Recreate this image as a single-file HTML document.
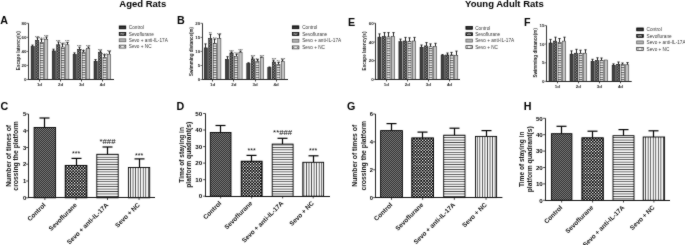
<!DOCTYPE html>
<html><head><meta charset="utf-8"><style>
html,body{margin:0;padding:0;background:#fff;}
body{width:685px;height:245px;overflow:hidden;}
svg{display:block;font-family:"Liberation Sans", sans-serif;filter:grayscale(1);}
</style></head><body>
<svg width="685" height="245" viewBox="0 0 685 245">
<defs>
<pattern id="pChk" width="2.8" height="2.8" patternUnits="userSpaceOnUse">
  <rect width="2.8" height="2.8" fill="#000"/>
  <rect x="0" y="0" width="1.4" height="1.4" fill="#fff"/>
  <rect x="1.4" y="1.4" width="1.4" height="1.4" fill="#fff"/>
</pattern>
<pattern id="pDark" width="2" height="2" patternUnits="userSpaceOnUse">
  <rect width="2" height="2" fill="#333"/>
  <rect x="0" y="0" width="1" height="1" fill="#777"/>
  <rect x="1" y="1" width="1" height="1" fill="#777"/>
</pattern>
<pattern id="pH" width="4" height="2.45" patternUnits="userSpaceOnUse">
  <rect width="4" height="2.45" fill="#fff"/>
  <rect x="0" y="0" width="4" height="0.8" fill="#333"/>
</pattern>
<pattern id="pV" width="2.55" height="4" patternUnits="userSpaceOnUse">
  <rect width="2.55" height="4" fill="#fff"/>
  <rect x="0" y="0" width="0.8" height="4" fill="#333"/>
</pattern>
<pattern id="pChkS" width="2.6" height="2.6" patternUnits="userSpaceOnUse">
  <rect width="2.6" height="2.6" fill="#1a1a1a"/>
  <rect x="0" y="0" width="1.3" height="1.3" fill="#e0e0e0"/>
  <rect x="1.3" y="1.3" width="1.3" height="1.3" fill="#e0e0e0"/>
</pattern>
<pattern id="pLad" width="4" height="2.4" patternUnits="userSpaceOnUse">
  <rect width="4" height="2.4" fill="#fff"/>
  <rect x="0" y="0" width="4" height="1" fill="#555"/>
</pattern>
<pattern id="pc0" x="35.6" y="0" width="3.2" height="2.6" patternUnits="userSpaceOnUse"><rect width="3.2" height="2.6" fill="#2a2a2a"/><rect x="0.3" y="0.1" width="1.2" height="1.1" fill="#b0b0b0"/><rect x="1.7" y="1.4" width="1.2" height="1.1" fill="#b0b0b0"/></pattern><pattern id="pc1" x="56.7" y="0" width="3.2" height="2.6" patternUnits="userSpaceOnUse"><rect width="3.2" height="2.6" fill="#2a2a2a"/><rect x="0.3" y="0.1" width="1.2" height="1.1" fill="#b0b0b0"/><rect x="1.7" y="1.4" width="1.2" height="1.1" fill="#b0b0b0"/></pattern><pattern id="pc2" x="77.6" y="0" width="3.2" height="2.6" patternUnits="userSpaceOnUse"><rect width="3.2" height="2.6" fill="#2a2a2a"/><rect x="0.3" y="0.1" width="1.2" height="1.1" fill="#b0b0b0"/><rect x="1.7" y="1.4" width="1.2" height="1.1" fill="#b0b0b0"/></pattern><pattern id="pc3" x="98.5" y="0" width="3.2" height="2.6" patternUnits="userSpaceOnUse"><rect width="3.2" height="2.6" fill="#2a2a2a"/><rect x="0.3" y="0.1" width="1.2" height="1.1" fill="#b0b0b0"/><rect x="1.7" y="1.4" width="1.2" height="1.1" fill="#b0b0b0"/></pattern><pattern id="pc4" x="208.7" y="0" width="3.2" height="2.6" patternUnits="userSpaceOnUse"><rect width="3.2" height="2.6" fill="#2a2a2a"/><rect x="0.3" y="0.1" width="1.2" height="1.1" fill="#b0b0b0"/><rect x="1.7" y="1.4" width="1.2" height="1.1" fill="#b0b0b0"/></pattern><pattern id="pc5" x="229.9" y="0" width="3.2" height="2.6" patternUnits="userSpaceOnUse"><rect width="3.2" height="2.6" fill="#2a2a2a"/><rect x="0.3" y="0.1" width="1.2" height="1.1" fill="#b0b0b0"/><rect x="1.7" y="1.4" width="1.2" height="1.1" fill="#b0b0b0"/></pattern><pattern id="pc6" x="251.3" y="0" width="3.2" height="2.6" patternUnits="userSpaceOnUse"><rect width="3.2" height="2.6" fill="#2a2a2a"/><rect x="0.3" y="0.1" width="1.2" height="1.1" fill="#b0b0b0"/><rect x="1.7" y="1.4" width="1.2" height="1.1" fill="#b0b0b0"/></pattern><pattern id="pc7" x="272.3" y="0" width="3.2" height="2.6" patternUnits="userSpaceOnUse"><rect width="3.2" height="2.6" fill="#2a2a2a"/><rect x="0.3" y="0.1" width="1.2" height="1.1" fill="#b0b0b0"/><rect x="1.7" y="1.4" width="1.2" height="1.1" fill="#b0b0b0"/></pattern><pattern id="pc8" x="382.4" y="0" width="3.2" height="2.6" patternUnits="userSpaceOnUse"><rect width="3.2" height="2.6" fill="#2a2a2a"/><rect x="0.3" y="0.1" width="1.2" height="1.1" fill="#b0b0b0"/><rect x="1.7" y="1.4" width="1.2" height="1.1" fill="#b0b0b0"/></pattern><pattern id="pc9" x="403.4" y="0" width="3.2" height="2.6" patternUnits="userSpaceOnUse"><rect width="3.2" height="2.6" fill="#2a2a2a"/><rect x="0.3" y="0.1" width="1.2" height="1.1" fill="#b0b0b0"/><rect x="1.7" y="1.4" width="1.2" height="1.1" fill="#b0b0b0"/></pattern><pattern id="pc10" x="424.5" y="0" width="3.2" height="2.6" patternUnits="userSpaceOnUse"><rect width="3.2" height="2.6" fill="#2a2a2a"/><rect x="0.3" y="0.1" width="1.2" height="1.1" fill="#b0b0b0"/><rect x="1.7" y="1.4" width="1.2" height="1.1" fill="#b0b0b0"/></pattern><pattern id="pc11" x="445.6" y="0" width="3.2" height="2.6" patternUnits="userSpaceOnUse"><rect width="3.2" height="2.6" fill="#2a2a2a"/><rect x="0.3" y="0.1" width="1.2" height="1.1" fill="#b0b0b0"/><rect x="1.7" y="1.4" width="1.2" height="1.1" fill="#b0b0b0"/></pattern><pattern id="pc12" x="553.5" y="0" width="3.2" height="2.6" patternUnits="userSpaceOnUse"><rect width="3.2" height="2.6" fill="#2a2a2a"/><rect x="0.3" y="0.1" width="1.2" height="1.1" fill="#b0b0b0"/><rect x="1.7" y="1.4" width="1.2" height="1.1" fill="#b0b0b0"/></pattern><pattern id="pc13" x="574.5" y="0" width="3.2" height="2.6" patternUnits="userSpaceOnUse"><rect width="3.2" height="2.6" fill="#2a2a2a"/><rect x="0.3" y="0.1" width="1.2" height="1.1" fill="#b0b0b0"/><rect x="1.7" y="1.4" width="1.2" height="1.1" fill="#b0b0b0"/></pattern><pattern id="pc14" x="595.5" y="0" width="3.2" height="2.6" patternUnits="userSpaceOnUse"><rect width="3.2" height="2.6" fill="#2a2a2a"/><rect x="0.3" y="0.1" width="1.2" height="1.1" fill="#b0b0b0"/><rect x="1.7" y="1.4" width="1.2" height="1.1" fill="#b0b0b0"/></pattern><pattern id="pc15" x="616.6" y="0" width="3.2" height="2.6" patternUnits="userSpaceOnUse"><rect width="3.2" height="2.6" fill="#2a2a2a"/><rect x="0.3" y="0.1" width="1.2" height="1.1" fill="#b0b0b0"/><rect x="1.7" y="1.4" width="1.2" height="1.1" fill="#b0b0b0"/></pattern><filter id="soft" x="0" y="0" width="685" height="245" filterUnits="userSpaceOnUse" color-interpolation-filters="sRGB"><feConvolveMatrix order="3" kernelMatrix="0.025 0.06 0.025 0.06 0.66 0.06 0.025 0.06 0.025" divisor="1" edgeMode="duplicate" preserveAlpha="true"/></filter></defs>
<g filter="url(#soft)">
<rect width="685" height="245" fill="#fff"/>
<text x="119.3" y="6.5" font-size="9.5" font-weight="bold" text-anchor="start" fill="#000">Aged Rats</text>
<text x="465.1" y="6.5" font-size="9.5" font-weight="bold" text-anchor="start" fill="#000">Young Adult Rats</text>
<text x="0.2" y="23.7" font-size="10.7" font-weight="bold" text-anchor="start" fill="#000">A</text>
<text x="176.9" y="23.7" font-size="10.7" font-weight="bold" text-anchor="start" fill="#000">B</text>
<text x="348" y="25.6" font-size="10.7" font-weight="bold" text-anchor="start" fill="#000">E</text>
<text x="524" y="25.7" font-size="10.7" font-weight="bold" text-anchor="start" fill="#000">F</text>
<text x="0.5" y="110" font-size="10.7" font-weight="bold" text-anchor="start" fill="#000">C</text>
<text x="176.6" y="110" font-size="10.7" font-weight="bold" text-anchor="start" fill="#000">D</text>
<text x="347" y="110" font-size="10.7" font-weight="bold" text-anchor="start" fill="#000">G</text>
<text x="523.7" y="110" font-size="10.7" font-weight="bold" text-anchor="start" fill="#000">H</text>
<line x1="32.5" y1="45.1" x2="32.5" y2="46.5" stroke="#111" stroke-width="0.9"/>
<line x1="31.4" y1="45.1" x2="33.6" y2="45.1" stroke="#111" stroke-width="0.9"/>
<rect x="31.1" y="46.5" width="3.2" height="33" fill="#404040" stroke="#000" stroke-width="0.5"/>
<line x1="37.5" y1="37.8" x2="37.5" y2="40.4" stroke="#111" stroke-width="0.9"/>
<line x1="36.4" y1="37.8" x2="38.6" y2="37.8" stroke="#111" stroke-width="0.9"/>
<rect x="35.6" y="40.4" width="3.2" height="39.1" fill="url(#pc0)" stroke="#000" stroke-width="0.5"/>
<text x="37.2" y="38.8" font-size="3.8" font-weight="normal" text-anchor="middle" fill="#000">***</text>
<line x1="41.5" y1="39.1" x2="41.5" y2="42.4" stroke="#111" stroke-width="0.9"/>
<line x1="40.4" y1="39.1" x2="42.6" y2="39.1" stroke="#111" stroke-width="0.9"/>
<rect x="40.1" y="42.4" width="3.2" height="37.1" fill="url(#pLad)" stroke="#111" stroke-width="0.5"/>
<text x="41.7" y="40.1" font-size="3.8" font-weight="normal" text-anchor="middle" fill="#000">*##</text>
<line x1="46.5" y1="37" x2="46.5" y2="39.2" stroke="#111" stroke-width="0.9"/>
<line x1="45.4" y1="37" x2="47.6" y2="37" stroke="#111" stroke-width="0.9"/>
<rect x="44.6" y="39.2" width="3.2" height="40.3" fill="#c4c4c4" stroke="#222" stroke-width="0.5"/>
<text x="46.2" y="38" font-size="3.8" font-weight="normal" text-anchor="middle" fill="#000">***</text>
<line x1="39.5" y1="79.5" x2="39.5" y2="81.5" stroke="#222" stroke-width="0.8"/>
<text x="39.45" y="86.1" font-size="4.4" font-weight="bold" text-anchor="middle" fill="#222">1d</text>
<line x1="53.5" y1="49.2" x2="53.5" y2="50.9" stroke="#111" stroke-width="0.9"/>
<line x1="52.4" y1="49.2" x2="54.6" y2="49.2" stroke="#111" stroke-width="0.9"/>
<rect x="52.2" y="50.9" width="3.2" height="28.6" fill="#404040" stroke="#000" stroke-width="0.5"/>
<line x1="58.5" y1="42" x2="58.5" y2="44.8" stroke="#111" stroke-width="0.9"/>
<line x1="57.4" y1="42" x2="59.6" y2="42" stroke="#111" stroke-width="0.9"/>
<rect x="56.7" y="44.8" width="3.2" height="34.7" fill="url(#pc1)" stroke="#000" stroke-width="0.5"/>
<text x="58.3" y="43" font-size="3.8" font-weight="normal" text-anchor="middle" fill="#000">***</text>
<line x1="62.5" y1="43.8" x2="62.5" y2="47" stroke="#111" stroke-width="0.9"/>
<line x1="61.4" y1="43.8" x2="63.6" y2="43.8" stroke="#111" stroke-width="0.9"/>
<rect x="61.2" y="47" width="3.2" height="32.5" fill="url(#pLad)" stroke="#111" stroke-width="0.5"/>
<text x="62.8" y="44.8" font-size="3.8" font-weight="normal" text-anchor="middle" fill="#000">*##</text>
<line x1="67.5" y1="42.4" x2="67.5" y2="44.8" stroke="#111" stroke-width="0.9"/>
<line x1="66.4" y1="42.4" x2="68.6" y2="42.4" stroke="#111" stroke-width="0.9"/>
<rect x="65.7" y="44.8" width="3.2" height="34.7" fill="#c4c4c4" stroke="#222" stroke-width="0.5"/>
<text x="67.3" y="43.4" font-size="3.8" font-weight="normal" text-anchor="middle" fill="#000">***</text>
<line x1="60.5" y1="79.5" x2="60.5" y2="81.5" stroke="#222" stroke-width="0.8"/>
<text x="60.55" y="86.1" font-size="4.4" font-weight="bold" text-anchor="middle" fill="#222">2d</text>
<line x1="74.5" y1="52.9" x2="74.5" y2="54.4" stroke="#111" stroke-width="0.9"/>
<line x1="73.4" y1="52.9" x2="75.6" y2="52.9" stroke="#111" stroke-width="0.9"/>
<rect x="73.1" y="54.4" width="3.2" height="25.1" fill="#404040" stroke="#000" stroke-width="0.5"/>
<line x1="79.5" y1="47.2" x2="79.5" y2="49.3" stroke="#111" stroke-width="0.9"/>
<line x1="78.4" y1="47.2" x2="80.6" y2="47.2" stroke="#111" stroke-width="0.9"/>
<rect x="77.6" y="49.3" width="3.2" height="30.2" fill="url(#pc2)" stroke="#000" stroke-width="0.5"/>
<text x="79.2" y="48.2" font-size="3.8" font-weight="normal" text-anchor="middle" fill="#000">***</text>
<line x1="83.5" y1="50.6" x2="83.5" y2="52.3" stroke="#111" stroke-width="0.9"/>
<line x1="82.4" y1="50.6" x2="84.6" y2="50.6" stroke="#111" stroke-width="0.9"/>
<rect x="82.1" y="52.3" width="3.2" height="27.2" fill="url(#pLad)" stroke="#111" stroke-width="0.5"/>
<text x="83.7" y="51.6" font-size="3.8" font-weight="normal" text-anchor="middle" fill="#000">*##</text>
<line x1="88.5" y1="47" x2="88.5" y2="48.6" stroke="#111" stroke-width="0.9"/>
<line x1="87.4" y1="47" x2="89.6" y2="47" stroke="#111" stroke-width="0.9"/>
<rect x="86.6" y="48.6" width="3.2" height="30.9" fill="#c4c4c4" stroke="#222" stroke-width="0.5"/>
<text x="88.2" y="48" font-size="3.8" font-weight="normal" text-anchor="middle" fill="#000">***</text>
<line x1="81.5" y1="79.5" x2="81.5" y2="81.5" stroke="#222" stroke-width="0.8"/>
<text x="81.45" y="86.1" font-size="4.4" font-weight="bold" text-anchor="middle" fill="#222">3d</text>
<line x1="95.5" y1="59.6" x2="95.5" y2="61.2" stroke="#111" stroke-width="0.9"/>
<line x1="94.4" y1="59.6" x2="96.6" y2="59.6" stroke="#111" stroke-width="0.9"/>
<rect x="94" y="61.2" width="3.2" height="18.3" fill="#404040" stroke="#000" stroke-width="0.5"/>
<line x1="100.5" y1="50.9" x2="100.5" y2="52.2" stroke="#111" stroke-width="0.9"/>
<line x1="99.4" y1="50.9" x2="101.6" y2="50.9" stroke="#111" stroke-width="0.9"/>
<rect x="98.5" y="52.2" width="3.2" height="27.3" fill="url(#pc3)" stroke="#000" stroke-width="0.5"/>
<text x="100.1" y="51.9" font-size="3.8" font-weight="normal" text-anchor="middle" fill="#000">***</text>
<line x1="104.5" y1="54.7" x2="104.5" y2="57.5" stroke="#111" stroke-width="0.9"/>
<line x1="103.4" y1="54.7" x2="105.6" y2="54.7" stroke="#111" stroke-width="0.9"/>
<rect x="103" y="57.5" width="3.2" height="22" fill="url(#pLad)" stroke="#111" stroke-width="0.5"/>
<text x="104.6" y="55.7" font-size="3.8" font-weight="normal" text-anchor="middle" fill="#000">*##</text>
<line x1="109.5" y1="51.7" x2="109.5" y2="54.2" stroke="#111" stroke-width="0.9"/>
<line x1="108.4" y1="51.7" x2="110.6" y2="51.7" stroke="#111" stroke-width="0.9"/>
<rect x="107.5" y="54.2" width="3.2" height="25.3" fill="#c4c4c4" stroke="#222" stroke-width="0.5"/>
<text x="109.1" y="52.7" font-size="3.8" font-weight="normal" text-anchor="middle" fill="#000">***</text>
<line x1="102.5" y1="79.5" x2="102.5" y2="81.5" stroke="#222" stroke-width="0.8"/>
<text x="102.35" y="86.1" font-size="4.4" font-weight="bold" text-anchor="middle" fill="#222">4d</text>
<line x1="28.5" y1="23.3" x2="28.5" y2="80" stroke="#333" stroke-width="1.0"/>
<line x1="28" y1="79.5" x2="114" y2="79.5" stroke="#222" stroke-width="1.0"/>
<line x1="26.5" y1="23.3" x2="28.5" y2="23.3" stroke="#333" stroke-width="0.7"/>
<text x="26.4" y="24.9" font-size="4.4" font-weight="bold" text-anchor="end" fill="#222">80</text>
<line x1="26.5" y1="37.3" x2="28.5" y2="37.3" stroke="#333" stroke-width="0.7"/>
<text x="26.4" y="38.9" font-size="4.4" font-weight="bold" text-anchor="end" fill="#222">60</text>
<line x1="26.5" y1="51.4" x2="28.5" y2="51.4" stroke="#333" stroke-width="0.7"/>
<text x="26.4" y="53" font-size="4.4" font-weight="bold" text-anchor="end" fill="#222">40</text>
<line x1="26.5" y1="65.4" x2="28.5" y2="65.4" stroke="#333" stroke-width="0.7"/>
<text x="26.4" y="67" font-size="4.4" font-weight="bold" text-anchor="end" fill="#222">20</text>
<line x1="26.5" y1="79.5" x2="28.5" y2="79.5" stroke="#333" stroke-width="0.7"/>
<text x="26.4" y="81.1" font-size="4.4" font-weight="bold" text-anchor="end" fill="#222">0</text>
<text x="19.5" y="50.75" font-size="4.6" font-weight="bold" text-anchor="middle" fill="#222" transform="rotate(-90 19.5 50.75)">Escape latency(s)</text>
<rect x="119.2" y="25.95" width="6.6" height="2.9" fill="#1e1e1e" stroke="#000" stroke-width="0.7"/>
<line x1="120.1" y1="27.4" x2="124.9" y2="27.4" stroke="#666" stroke-width="0.5"/>
<text x="128.8" y="29.1" font-size="4.7" font-weight="normal" text-anchor="start" fill="#333">Control</text>
<rect x="119.2" y="32.45" width="6.6" height="2.9" fill="#151515" stroke="#000" stroke-width="0.7"/>
<polyline points="120.2,33.2 120.9,34.6 121.6,33.2 122.3,34.6 123,33.2 123.7,34.6 124.4,33.2" fill="none" stroke="#eee" stroke-width="0.55"/>
<text x="128.8" y="35.6" font-size="4.7" font-weight="normal" text-anchor="start" fill="#333">Sevoflurane</text>
<rect x="119.2" y="38.85" width="6.6" height="2.9" fill="#b4b4b4" stroke="#555" stroke-width="0.7"/>
<text x="128.8" y="42" font-size="4.7" font-weight="normal" text-anchor="start" fill="#333">Sevo + anti-IL-17A</text>
<rect x="119.2" y="45.15" width="6.6" height="2.9" fill="#f4f4f4" stroke="#222" stroke-width="0.7"/>
<rect x="119.9" y="45.8" width="1.3" height="1.6" fill="#888"/>
<rect x="123.8" y="45.8" width="1.3" height="1.6" fill="#888"/>
<text x="128.8" y="48.3" font-size="4.7" font-weight="normal" text-anchor="start" fill="#333">Sevo + NC</text>
<line x1="205.5" y1="43.9" x2="205.5" y2="47.9" stroke="#111" stroke-width="0.9"/>
<line x1="204.4" y1="43.9" x2="206.6" y2="43.9" stroke="#111" stroke-width="0.9"/>
<rect x="204.2" y="47.9" width="3.2" height="31.6" fill="#404040" stroke="#000" stroke-width="0.5"/>
<line x1="210.5" y1="34.3" x2="210.5" y2="38.6" stroke="#111" stroke-width="0.9"/>
<line x1="209.4" y1="34.3" x2="211.6" y2="34.3" stroke="#111" stroke-width="0.9"/>
<rect x="208.7" y="38.6" width="3.2" height="40.9" fill="url(#pc4)" stroke="#000" stroke-width="0.5"/>
<text x="210.3" y="35.3" font-size="3.8" font-weight="normal" text-anchor="middle" fill="#000">**</text>
<line x1="214.5" y1="39" x2="214.5" y2="43.3" stroke="#111" stroke-width="0.9"/>
<line x1="213.4" y1="39" x2="215.6" y2="39" stroke="#111" stroke-width="0.9"/>
<rect x="213.2" y="43.3" width="3.2" height="36.2" fill="url(#pLad)" stroke="#111" stroke-width="0.5"/>
<text x="214.8" y="40" font-size="3.8" font-weight="normal" text-anchor="middle" fill="#000">*#</text>
<line x1="219.5" y1="34.7" x2="219.5" y2="38.6" stroke="#111" stroke-width="0.9"/>
<line x1="218.4" y1="34.7" x2="220.6" y2="34.7" stroke="#111" stroke-width="0.9"/>
<rect x="217.7" y="38.6" width="3.2" height="40.9" fill="#c4c4c4" stroke="#222" stroke-width="0.5"/>
<text x="219.3" y="35.7" font-size="3.8" font-weight="normal" text-anchor="middle" fill="#000">***</text>
<line x1="212.5" y1="79.5" x2="212.5" y2="81.5" stroke="#222" stroke-width="0.8"/>
<text x="212.55" y="86.1" font-size="4.4" font-weight="bold" text-anchor="middle" fill="#222">1d</text>
<line x1="227.5" y1="56.7" x2="227.5" y2="59.3" stroke="#111" stroke-width="0.9"/>
<line x1="226.4" y1="56.7" x2="228.6" y2="56.7" stroke="#111" stroke-width="0.9"/>
<rect x="225.4" y="59.3" width="3.2" height="20.2" fill="#404040" stroke="#000" stroke-width="0.5"/>
<line x1="231.5" y1="52" x2="231.5" y2="53" stroke="#111" stroke-width="0.9"/>
<line x1="230.4" y1="52" x2="232.6" y2="52" stroke="#111" stroke-width="0.9"/>
<rect x="229.9" y="53" width="3.2" height="26.5" fill="url(#pc5)" stroke="#000" stroke-width="0.5"/>
<text x="231.5" y="53" font-size="3.8" font-weight="normal" text-anchor="middle" fill="#000">***</text>
<line x1="236.5" y1="54.1" x2="236.5" y2="56.3" stroke="#111" stroke-width="0.9"/>
<line x1="235.4" y1="54.1" x2="237.6" y2="54.1" stroke="#111" stroke-width="0.9"/>
<rect x="234.4" y="56.3" width="3.2" height="23.2" fill="url(#pLad)" stroke="#111" stroke-width="0.5"/>
<text x="236" y="55.1" font-size="3.8" font-weight="normal" text-anchor="middle" fill="#000">*#</text>
<line x1="240.5" y1="51.1" x2="240.5" y2="52.4" stroke="#111" stroke-width="0.9"/>
<line x1="239.4" y1="51.1" x2="241.6" y2="51.1" stroke="#111" stroke-width="0.9"/>
<rect x="238.9" y="52.4" width="3.2" height="27.1" fill="#c4c4c4" stroke="#222" stroke-width="0.5"/>
<text x="240.5" y="52.1" font-size="3.8" font-weight="normal" text-anchor="middle" fill="#000">***</text>
<line x1="233.5" y1="79.5" x2="233.5" y2="81.5" stroke="#222" stroke-width="0.8"/>
<text x="233.75" y="86.1" font-size="4.4" font-weight="bold" text-anchor="middle" fill="#222">2d</text>
<line x1="248.5" y1="62.8" x2="248.5" y2="63.5" stroke="#111" stroke-width="0.9"/>
<line x1="247.4" y1="62.8" x2="249.6" y2="62.8" stroke="#111" stroke-width="0.9"/>
<rect x="246.8" y="63.5" width="3.2" height="16" fill="#404040" stroke="#000" stroke-width="0.5"/>
<line x1="252.5" y1="57" x2="252.5" y2="58.9" stroke="#111" stroke-width="0.9"/>
<line x1="251.4" y1="57" x2="253.6" y2="57" stroke="#111" stroke-width="0.9"/>
<rect x="251.3" y="58.9" width="3.2" height="20.6" fill="url(#pc6)" stroke="#000" stroke-width="0.5"/>
<text x="252.9" y="58" font-size="3.8" font-weight="normal" text-anchor="middle" fill="#000">***</text>
<line x1="257.5" y1="59.6" x2="257.5" y2="61.5" stroke="#111" stroke-width="0.9"/>
<line x1="256.4" y1="59.6" x2="258.6" y2="59.6" stroke="#111" stroke-width="0.9"/>
<rect x="255.8" y="61.5" width="3.2" height="18" fill="url(#pLad)" stroke="#111" stroke-width="0.5"/>
<text x="257.4" y="60.6" font-size="3.8" font-weight="normal" text-anchor="middle" fill="#000">*#</text>
<line x1="261.5" y1="57" x2="261.5" y2="57.6" stroke="#111" stroke-width="0.9"/>
<line x1="260.4" y1="57" x2="262.6" y2="57" stroke="#111" stroke-width="0.9"/>
<rect x="260.3" y="57.6" width="3.2" height="21.9" fill="#c4c4c4" stroke="#222" stroke-width="0.5"/>
<text x="261.9" y="58" font-size="3.8" font-weight="normal" text-anchor="middle" fill="#000">***</text>
<line x1="255.5" y1="79.5" x2="255.5" y2="81.5" stroke="#222" stroke-width="0.8"/>
<text x="255.15" y="86.1" font-size="4.4" font-weight="bold" text-anchor="middle" fill="#222">3d</text>
<line x1="269.5" y1="67" x2="269.5" y2="67.6" stroke="#111" stroke-width="0.9"/>
<line x1="268.4" y1="67" x2="270.6" y2="67" stroke="#111" stroke-width="0.9"/>
<rect x="267.8" y="67.6" width="3.2" height="11.9" fill="#404040" stroke="#000" stroke-width="0.5"/>
<line x1="273.5" y1="60.2" x2="273.5" y2="62" stroke="#111" stroke-width="0.9"/>
<line x1="272.4" y1="60.2" x2="274.6" y2="60.2" stroke="#111" stroke-width="0.9"/>
<rect x="272.3" y="62" width="3.2" height="17.5" fill="url(#pc7)" stroke="#000" stroke-width="0.5"/>
<text x="273.9" y="61.2" font-size="3.8" font-weight="normal" text-anchor="middle" fill="#000">***</text>
<line x1="278.5" y1="62.4" x2="278.5" y2="64.6" stroke="#111" stroke-width="0.9"/>
<line x1="277.4" y1="62.4" x2="279.6" y2="62.4" stroke="#111" stroke-width="0.9"/>
<rect x="276.8" y="64.6" width="3.2" height="14.9" fill="url(#pLad)" stroke="#111" stroke-width="0.5"/>
<text x="278.4" y="63.4" font-size="3.8" font-weight="normal" text-anchor="middle" fill="#000">*#</text>
<line x1="282.5" y1="59.8" x2="282.5" y2="61.5" stroke="#111" stroke-width="0.9"/>
<line x1="281.4" y1="59.8" x2="283.6" y2="59.8" stroke="#111" stroke-width="0.9"/>
<rect x="281.3" y="61.5" width="3.2" height="18" fill="#c4c4c4" stroke="#222" stroke-width="0.5"/>
<text x="282.9" y="60.8" font-size="3.8" font-weight="normal" text-anchor="middle" fill="#000">***</text>
<line x1="276.5" y1="79.5" x2="276.5" y2="81.5" stroke="#222" stroke-width="0.8"/>
<text x="276.15" y="86.1" font-size="4.4" font-weight="bold" text-anchor="middle" fill="#222">4d</text>
<line x1="202.5" y1="23.3" x2="202.5" y2="80" stroke="#333" stroke-width="1.0"/>
<line x1="202" y1="79.5" x2="288" y2="79.5" stroke="#222" stroke-width="1.0"/>
<line x1="200.5" y1="23.3" x2="202.5" y2="23.3" stroke="#333" stroke-width="0.7"/>
<text x="200.2" y="24.9" font-size="4.4" font-weight="bold" text-anchor="end" fill="#222">20</text>
<line x1="200.5" y1="37.4" x2="202.5" y2="37.4" stroke="#333" stroke-width="0.7"/>
<text x="200.2" y="39" font-size="4.4" font-weight="bold" text-anchor="end" fill="#222">15</text>
<line x1="200.5" y1="51.4" x2="202.5" y2="51.4" stroke="#333" stroke-width="0.7"/>
<text x="200.2" y="53" font-size="4.4" font-weight="bold" text-anchor="end" fill="#222">10</text>
<line x1="200.5" y1="65.5" x2="202.5" y2="65.5" stroke="#333" stroke-width="0.7"/>
<text x="200.2" y="67.1" font-size="4.4" font-weight="bold" text-anchor="end" fill="#222">5</text>
<line x1="200.5" y1="79.5" x2="202.5" y2="79.5" stroke="#333" stroke-width="0.7"/>
<text x="200.2" y="81.1" font-size="4.4" font-weight="bold" text-anchor="end" fill="#222">0</text>
<text x="192.9" y="51.55" font-size="4.5" font-weight="bold" text-anchor="middle" fill="#222" transform="rotate(-90 192.9 51.55)">Swimming distance(m)</text>
<rect x="292.3" y="25.85" width="6.6" height="2.9" fill="#1e1e1e" stroke="#000" stroke-width="0.7"/>
<line x1="293.2" y1="27.3" x2="298" y2="27.3" stroke="#666" stroke-width="0.5"/>
<text x="302.2" y="29" font-size="4.7" font-weight="normal" text-anchor="start" fill="#333">Control</text>
<rect x="292.3" y="32.55" width="6.6" height="2.9" fill="#151515" stroke="#000" stroke-width="0.7"/>
<polyline points="293.3,33.3 294,34.7 294.7,33.3 295.4,34.7 296.1,33.3 296.8,34.7 297.5,33.3" fill="none" stroke="#eee" stroke-width="0.55"/>
<text x="302.2" y="35.7" font-size="4.7" font-weight="normal" text-anchor="start" fill="#333">Sevoflurane</text>
<rect x="292.3" y="39.25" width="6.6" height="2.9" fill="#b4b4b4" stroke="#555" stroke-width="0.7"/>
<text x="302.2" y="42.4" font-size="4.7" font-weight="normal" text-anchor="start" fill="#333">Sevo + anti-IL-17A</text>
<rect x="292.3" y="45.95" width="6.6" height="2.9" fill="#f4f4f4" stroke="#222" stroke-width="0.7"/>
<rect x="293" y="46.6" width="1.3" height="1.6" fill="#888"/>
<rect x="296.9" y="46.6" width="1.3" height="1.6" fill="#888"/>
<text x="302.2" y="49.1" font-size="4.7" font-weight="normal" text-anchor="start" fill="#333">Sevo + NC</text>
<line x1="379.5" y1="33.9" x2="379.5" y2="37.1" stroke="#111" stroke-width="0.9"/>
<line x1="378.4" y1="33.9" x2="380.6" y2="33.9" stroke="#111" stroke-width="0.9"/>
<rect x="377.9" y="37.1" width="3.2" height="42.3" fill="#404040" stroke="#000" stroke-width="0.5"/>
<line x1="384.5" y1="32.6" x2="384.5" y2="36.5" stroke="#111" stroke-width="0.9"/>
<line x1="383.4" y1="32.6" x2="385.6" y2="32.6" stroke="#111" stroke-width="0.9"/>
<rect x="382.4" y="36.5" width="3.2" height="42.9" fill="url(#pc8)" stroke="#000" stroke-width="0.5"/>
<line x1="388.5" y1="32.6" x2="388.5" y2="36.9" stroke="#111" stroke-width="0.9"/>
<line x1="387.4" y1="32.6" x2="389.6" y2="32.6" stroke="#111" stroke-width="0.9"/>
<rect x="386.9" y="36.9" width="3.2" height="42.5" fill="url(#pLad)" stroke="#111" stroke-width="0.5"/>
<line x1="393.5" y1="32.6" x2="393.5" y2="36.5" stroke="#111" stroke-width="0.9"/>
<line x1="392.4" y1="32.6" x2="394.6" y2="32.6" stroke="#111" stroke-width="0.9"/>
<rect x="391.4" y="36.5" width="3.2" height="42.9" fill="#c4c4c4" stroke="#222" stroke-width="0.5"/>
<line x1="386.5" y1="79.4" x2="386.5" y2="81.4" stroke="#222" stroke-width="0.8"/>
<text x="386.25" y="86" font-size="4.4" font-weight="bold" text-anchor="middle" fill="#222">1d</text>
<line x1="400.5" y1="39.1" x2="400.5" y2="41.7" stroke="#111" stroke-width="0.9"/>
<line x1="399.4" y1="39.1" x2="401.6" y2="39.1" stroke="#111" stroke-width="0.9"/>
<rect x="398.9" y="41.7" width="3.2" height="37.7" fill="#404040" stroke="#000" stroke-width="0.5"/>
<line x1="405.5" y1="37.4" x2="405.5" y2="41" stroke="#111" stroke-width="0.9"/>
<line x1="404.4" y1="37.4" x2="406.6" y2="37.4" stroke="#111" stroke-width="0.9"/>
<rect x="403.4" y="41" width="3.2" height="38.4" fill="url(#pc9)" stroke="#000" stroke-width="0.5"/>
<line x1="409.5" y1="37.8" x2="409.5" y2="41.3" stroke="#111" stroke-width="0.9"/>
<line x1="408.4" y1="37.8" x2="410.6" y2="37.8" stroke="#111" stroke-width="0.9"/>
<rect x="407.9" y="41.3" width="3.2" height="38.1" fill="url(#pLad)" stroke="#111" stroke-width="0.5"/>
<line x1="414.5" y1="37.4" x2="414.5" y2="41" stroke="#111" stroke-width="0.9"/>
<line x1="413.4" y1="37.4" x2="415.6" y2="37.4" stroke="#111" stroke-width="0.9"/>
<rect x="412.4" y="41" width="3.2" height="38.4" fill="#c4c4c4" stroke="#222" stroke-width="0.5"/>
<line x1="407.5" y1="79.4" x2="407.5" y2="81.4" stroke="#222" stroke-width="0.8"/>
<text x="407.25" y="86" font-size="4.4" font-weight="bold" text-anchor="middle" fill="#222">2d</text>
<line x1="421.5" y1="45" x2="421.5" y2="47.2" stroke="#111" stroke-width="0.9"/>
<line x1="420.4" y1="45" x2="422.6" y2="45" stroke="#111" stroke-width="0.9"/>
<rect x="420" y="47.2" width="3.2" height="32.2" fill="#404040" stroke="#000" stroke-width="0.5"/>
<line x1="426.5" y1="42.6" x2="426.5" y2="45.9" stroke="#111" stroke-width="0.9"/>
<line x1="425.4" y1="42.6" x2="427.6" y2="42.6" stroke="#111" stroke-width="0.9"/>
<rect x="424.5" y="45.9" width="3.2" height="33.5" fill="url(#pc10)" stroke="#000" stroke-width="0.5"/>
<line x1="430.5" y1="43.9" x2="430.5" y2="46.8" stroke="#111" stroke-width="0.9"/>
<line x1="429.4" y1="43.9" x2="431.6" y2="43.9" stroke="#111" stroke-width="0.9"/>
<rect x="429" y="46.8" width="3.2" height="32.6" fill="url(#pLad)" stroke="#111" stroke-width="0.5"/>
<line x1="435.5" y1="43.3" x2="435.5" y2="46.5" stroke="#111" stroke-width="0.9"/>
<line x1="434.4" y1="43.3" x2="436.6" y2="43.3" stroke="#111" stroke-width="0.9"/>
<rect x="433.5" y="46.5" width="3.2" height="32.9" fill="#c4c4c4" stroke="#222" stroke-width="0.5"/>
<line x1="428.5" y1="79.4" x2="428.5" y2="81.4" stroke="#222" stroke-width="0.8"/>
<text x="428.35" y="86" font-size="4.4" font-weight="bold" text-anchor="middle" fill="#222">3d</text>
<line x1="442.5" y1="54.6" x2="442.5" y2="55.4" stroke="#111" stroke-width="0.9"/>
<line x1="441.4" y1="54.6" x2="443.6" y2="54.6" stroke="#111" stroke-width="0.9"/>
<rect x="441.1" y="55.4" width="3.2" height="24" fill="#404040" stroke="#000" stroke-width="0.5"/>
<line x1="447.5" y1="53" x2="447.5" y2="55" stroke="#111" stroke-width="0.9"/>
<line x1="446.4" y1="53" x2="448.6" y2="53" stroke="#111" stroke-width="0.9"/>
<rect x="445.6" y="55" width="3.2" height="24.4" fill="url(#pc11)" stroke="#000" stroke-width="0.5"/>
<line x1="451.5" y1="52.4" x2="451.5" y2="55" stroke="#111" stroke-width="0.9"/>
<line x1="450.4" y1="52.4" x2="452.6" y2="52.4" stroke="#111" stroke-width="0.9"/>
<rect x="450.1" y="55" width="3.2" height="24.4" fill="url(#pLad)" stroke="#111" stroke-width="0.5"/>
<line x1="456.5" y1="51.1" x2="456.5" y2="55.4" stroke="#111" stroke-width="0.9"/>
<line x1="455.4" y1="51.1" x2="457.6" y2="51.1" stroke="#111" stroke-width="0.9"/>
<rect x="454.6" y="55.4" width="3.2" height="24" fill="#c4c4c4" stroke="#222" stroke-width="0.5"/>
<line x1="449.5" y1="79.4" x2="449.5" y2="81.4" stroke="#222" stroke-width="0.8"/>
<text x="449.45" y="86" font-size="4.4" font-weight="bold" text-anchor="middle" fill="#222">4d</text>
<line x1="375.5" y1="23.2" x2="375.5" y2="80" stroke="#333" stroke-width="1.0"/>
<line x1="375" y1="79.5" x2="460" y2="79.5" stroke="#222" stroke-width="1.0"/>
<line x1="373.5" y1="23.2" x2="375.5" y2="23.2" stroke="#333" stroke-width="0.7"/>
<text x="373.7" y="24.8" font-size="4.4" font-weight="bold" text-anchor="end" fill="#222">60</text>
<line x1="373.5" y1="42" x2="375.5" y2="42" stroke="#333" stroke-width="0.7"/>
<text x="373.7" y="43.6" font-size="4.4" font-weight="bold" text-anchor="end" fill="#222">40</text>
<line x1="373.5" y1="60.7" x2="375.5" y2="60.7" stroke="#333" stroke-width="0.7"/>
<text x="373.7" y="62.3" font-size="4.4" font-weight="bold" text-anchor="end" fill="#222">20</text>
<line x1="373.5" y1="79.4" x2="375.5" y2="79.4" stroke="#333" stroke-width="0.7"/>
<text x="373.7" y="81" font-size="4.4" font-weight="bold" text-anchor="end" fill="#222">0</text>
<text x="366" y="51" font-size="4.6" font-weight="bold" text-anchor="middle" fill="#222" transform="rotate(-90 366 51)">Escape latency(s)</text>
<rect x="465.9" y="26.35" width="6.6" height="2.9" fill="#1e1e1e" stroke="#000" stroke-width="0.7"/>
<line x1="466.8" y1="27.8" x2="471.6" y2="27.8" stroke="#666" stroke-width="0.5"/>
<text x="475.2" y="29.5" font-size="4.7" font-weight="normal" text-anchor="start" fill="#333">Control</text>
<rect x="465.9" y="32.75" width="6.6" height="2.9" fill="#151515" stroke="#000" stroke-width="0.7"/>
<polyline points="466.9,33.5 467.6,34.9 468.3,33.5 469,34.9 469.7,33.5 470.4,34.9 471.1,33.5" fill="none" stroke="#eee" stroke-width="0.55"/>
<text x="475.2" y="35.9" font-size="4.7" font-weight="normal" text-anchor="start" fill="#333">Sevoflurane</text>
<rect x="465.9" y="39.15" width="6.6" height="2.9" fill="#b4b4b4" stroke="#555" stroke-width="0.7"/>
<text x="475.2" y="42.3" font-size="4.7" font-weight="normal" text-anchor="start" fill="#333">Sevo + anti-IL-17A</text>
<rect x="465.9" y="45.65" width="6.6" height="2.9" fill="#f4f4f4" stroke="#222" stroke-width="0.7"/>
<rect x="466.6" y="46.3" width="1.3" height="1.6" fill="#888"/>
<rect x="470.5" y="46.3" width="1.3" height="1.6" fill="#888"/>
<text x="475.2" y="48.8" font-size="4.7" font-weight="normal" text-anchor="start" fill="#333">Sevo + NC</text>
<line x1="550.5" y1="39.4" x2="550.5" y2="43" stroke="#111" stroke-width="0.9"/>
<line x1="549.4" y1="39.4" x2="551.6" y2="39.4" stroke="#111" stroke-width="0.9"/>
<rect x="549" y="43" width="3.2" height="38.3" fill="#404040" stroke="#000" stroke-width="0.5"/>
<line x1="555.5" y1="37.2" x2="555.5" y2="41.1" stroke="#111" stroke-width="0.9"/>
<line x1="554.4" y1="37.2" x2="556.6" y2="37.2" stroke="#111" stroke-width="0.9"/>
<rect x="553.5" y="41.1" width="3.2" height="40.2" fill="url(#pc12)" stroke="#000" stroke-width="0.5"/>
<line x1="559.5" y1="38.5" x2="559.5" y2="42.4" stroke="#111" stroke-width="0.9"/>
<line x1="558.4" y1="38.5" x2="560.6" y2="38.5" stroke="#111" stroke-width="0.9"/>
<rect x="558" y="42.4" width="3.2" height="38.9" fill="url(#pLad)" stroke="#111" stroke-width="0.5"/>
<line x1="564.5" y1="37.2" x2="564.5" y2="41.1" stroke="#111" stroke-width="0.9"/>
<line x1="563.4" y1="37.2" x2="565.6" y2="37.2" stroke="#111" stroke-width="0.9"/>
<rect x="562.5" y="41.1" width="3.2" height="40.2" fill="#c4c4c4" stroke="#222" stroke-width="0.5"/>
<line x1="557.5" y1="81.3" x2="557.5" y2="83.3" stroke="#222" stroke-width="0.8"/>
<text x="557.35" y="87.9" font-size="4.4" font-weight="bold" text-anchor="middle" fill="#222">1d</text>
<line x1="571.5" y1="50.9" x2="571.5" y2="54.1" stroke="#111" stroke-width="0.9"/>
<line x1="570.4" y1="50.9" x2="572.6" y2="50.9" stroke="#111" stroke-width="0.9"/>
<rect x="570" y="54.1" width="3.2" height="27.2" fill="#404040" stroke="#000" stroke-width="0.5"/>
<line x1="576.5" y1="49.3" x2="576.5" y2="53.2" stroke="#111" stroke-width="0.9"/>
<line x1="575.4" y1="49.3" x2="577.6" y2="49.3" stroke="#111" stroke-width="0.9"/>
<rect x="574.5" y="53.2" width="3.2" height="28.1" fill="url(#pc13)" stroke="#000" stroke-width="0.5"/>
<line x1="580.5" y1="50.2" x2="580.5" y2="53.5" stroke="#111" stroke-width="0.9"/>
<line x1="579.4" y1="50.2" x2="581.6" y2="50.2" stroke="#111" stroke-width="0.9"/>
<rect x="579" y="53.5" width="3.2" height="27.8" fill="url(#pLad)" stroke="#111" stroke-width="0.5"/>
<line x1="585.5" y1="49.8" x2="585.5" y2="53.2" stroke="#111" stroke-width="0.9"/>
<line x1="584.4" y1="49.8" x2="586.6" y2="49.8" stroke="#111" stroke-width="0.9"/>
<rect x="583.5" y="53.2" width="3.2" height="28.1" fill="#c4c4c4" stroke="#222" stroke-width="0.5"/>
<line x1="578.5" y1="81.3" x2="578.5" y2="83.3" stroke="#222" stroke-width="0.8"/>
<text x="578.35" y="87.9" font-size="4.4" font-weight="bold" text-anchor="middle" fill="#222">2d</text>
<line x1="592.5" y1="59.3" x2="592.5" y2="61.3" stroke="#111" stroke-width="0.9"/>
<line x1="591.4" y1="59.3" x2="593.6" y2="59.3" stroke="#111" stroke-width="0.9"/>
<rect x="591" y="61.3" width="3.2" height="20" fill="#404040" stroke="#000" stroke-width="0.5"/>
<line x1="597.5" y1="57.8" x2="597.5" y2="60.4" stroke="#111" stroke-width="0.9"/>
<line x1="596.4" y1="57.8" x2="598.6" y2="57.8" stroke="#111" stroke-width="0.9"/>
<rect x="595.5" y="60.4" width="3.2" height="20.9" fill="url(#pc14)" stroke="#000" stroke-width="0.5"/>
<line x1="601.5" y1="58" x2="601.5" y2="60.4" stroke="#111" stroke-width="0.9"/>
<line x1="600.4" y1="58" x2="602.6" y2="58" stroke="#111" stroke-width="0.9"/>
<rect x="600" y="60.4" width="3.2" height="20.9" fill="url(#pLad)" stroke="#111" stroke-width="0.5"/>
<rect x="604.5" y="60" width="3.2" height="21.3" fill="#c4c4c4" stroke="#222" stroke-width="0.5"/>
<line x1="599.5" y1="81.3" x2="599.5" y2="83.3" stroke="#222" stroke-width="0.8"/>
<text x="599.35" y="87.9" font-size="4.4" font-weight="bold" text-anchor="middle" fill="#222">3d</text>
<line x1="613.5" y1="63.9" x2="613.5" y2="65.2" stroke="#111" stroke-width="0.9"/>
<line x1="612.4" y1="63.9" x2="614.6" y2="63.9" stroke="#111" stroke-width="0.9"/>
<rect x="612.1" y="65.2" width="3.2" height="16.1" fill="#404040" stroke="#000" stroke-width="0.5"/>
<line x1="618.5" y1="62" x2="618.5" y2="64.3" stroke="#111" stroke-width="0.9"/>
<line x1="617.4" y1="62" x2="619.6" y2="62" stroke="#111" stroke-width="0.9"/>
<rect x="616.6" y="64.3" width="3.2" height="17" fill="url(#pc15)" stroke="#000" stroke-width="0.5"/>
<line x1="622.5" y1="63" x2="622.5" y2="64.6" stroke="#111" stroke-width="0.9"/>
<line x1="621.4" y1="63" x2="623.6" y2="63" stroke="#111" stroke-width="0.9"/>
<rect x="621.1" y="64.6" width="3.2" height="16.7" fill="url(#pLad)" stroke="#111" stroke-width="0.5"/>
<line x1="627.5" y1="62.6" x2="627.5" y2="64.8" stroke="#111" stroke-width="0.9"/>
<line x1="626.4" y1="62.6" x2="628.6" y2="62.6" stroke="#111" stroke-width="0.9"/>
<rect x="625.6" y="64.8" width="3.2" height="16.5" fill="#c4c4c4" stroke="#222" stroke-width="0.5"/>
<line x1="620.5" y1="81.3" x2="620.5" y2="83.3" stroke="#222" stroke-width="0.8"/>
<text x="620.45" y="87.9" font-size="4.4" font-weight="bold" text-anchor="middle" fill="#222">4d</text>
<line x1="546.5" y1="25.6" x2="546.5" y2="82" stroke="#333" stroke-width="1.0"/>
<line x1="546" y1="81.5" x2="631.7" y2="81.5" stroke="#222" stroke-width="1.0"/>
<line x1="544.5" y1="25.6" x2="546.5" y2="25.6" stroke="#333" stroke-width="0.7"/>
<text x="544.5" y="27.2" font-size="4.4" font-weight="bold" text-anchor="end" fill="#222">15</text>
<line x1="544.5" y1="44" x2="546.5" y2="44" stroke="#333" stroke-width="0.7"/>
<text x="544.5" y="45.6" font-size="4.4" font-weight="bold" text-anchor="end" fill="#222">10</text>
<line x1="544.5" y1="62.8" x2="546.5" y2="62.8" stroke="#333" stroke-width="0.7"/>
<text x="544.5" y="64.4" font-size="4.4" font-weight="bold" text-anchor="end" fill="#222">5</text>
<line x1="544.5" y1="81.3" x2="546.5" y2="81.3" stroke="#333" stroke-width="0.7"/>
<text x="544.5" y="82.9" font-size="4.4" font-weight="bold" text-anchor="end" fill="#222">0</text>
<text x="537" y="52.85" font-size="4.56" font-weight="bold" text-anchor="middle" fill="#222" transform="rotate(-90 537 52.85)">Swimming distance(m)</text>
<rect x="636.7" y="27.95" width="6.6" height="2.9" fill="#1e1e1e" stroke="#000" stroke-width="0.7"/>
<line x1="637.6" y1="29.4" x2="642.4" y2="29.4" stroke="#666" stroke-width="0.5"/>
<text x="646.6" y="31.1" font-size="4.7" font-weight="normal" text-anchor="start" fill="#333">Control</text>
<rect x="636.7" y="34.45" width="6.6" height="2.9" fill="#151515" stroke="#000" stroke-width="0.7"/>
<polyline points="637.7,35.2 638.4,36.6 639.1,35.2 639.8,36.6 640.5,35.2 641.2,36.6 641.9,35.2" fill="none" stroke="#eee" stroke-width="0.55"/>
<text x="646.6" y="37.6" font-size="4.7" font-weight="normal" text-anchor="start" fill="#333">Sevoflurane</text>
<rect x="636.7" y="40.95" width="6.6" height="2.9" fill="#b4b4b4" stroke="#555" stroke-width="0.7"/>
<text x="646.6" y="44.1" font-size="4.7" font-weight="normal" text-anchor="start" fill="#333">Sevo + anti-IL-17A</text>
<rect x="636.7" y="47.45" width="6.6" height="2.9" fill="#f4f4f4" stroke="#222" stroke-width="0.7"/>
<rect x="637.4" y="48.1" width="1.3" height="1.6" fill="#888"/>
<rect x="641.3" y="48.1" width="1.3" height="1.6" fill="#888"/>
<text x="646.6" y="50.6" font-size="4.7" font-weight="normal" text-anchor="start" fill="#333">Sevo + NC</text>
<line x1="44.5" y1="118" x2="44.5" y2="127.5" stroke="#000" stroke-width="1.2"/>
<line x1="39.5" y1="118" x2="49.5" y2="118" stroke="#000" stroke-width="1.2"/>
<rect x="34.1" y="127.5" width="21.5" height="70.3" fill="url(#pDark)" stroke="#000" stroke-width="0.9"/>
<line x1="44.85" y1="197.8" x2="44.85" y2="200" stroke="#000" stroke-width="0.7"/>
<text x="46.05" y="205.4" font-size="6.4" font-weight="bold" text-anchor="end" fill="#111" transform="rotate(-45 46.05 205.4)">Control</text>
<line x1="76.5" y1="158.4" x2="76.5" y2="165.4" stroke="#000" stroke-width="1.2"/>
<line x1="71.5" y1="158.4" x2="81.5" y2="158.4" stroke="#000" stroke-width="1.2"/>
<rect x="65.2" y="165.4" width="21.7" height="32.4" fill="#000"/>
<path d="M65.65 196.45h0.9v1.25h-0.9zM68.2 196.45h1.25v1.25h-1.25zM71.1 196.45h1.25v1.25h-1.25zM74 196.45h1.25v1.25h-1.25zM76.9 196.45h1.25v1.25h-1.25zM79.8 196.45h1.25v1.25h-1.25zM82.7 196.45h1.25v1.25h-1.25zM85.6 196.45h0.85v1.25h-0.85zM66.75 195h1.25v1.25h-1.25zM69.65 195h1.25v1.25h-1.25zM72.55 195h1.25v1.25h-1.25zM75.45 195h1.25v1.25h-1.25zM78.35 195h1.25v1.25h-1.25zM81.25 195h1.25v1.25h-1.25zM84.15 195h1.25v1.25h-1.25zM65.65 193.55h0.9v1.25h-0.9zM68.2 193.55h1.25v1.25h-1.25zM71.1 193.55h1.25v1.25h-1.25zM74 193.55h1.25v1.25h-1.25zM76.9 193.55h1.25v1.25h-1.25zM79.8 193.55h1.25v1.25h-1.25zM82.7 193.55h1.25v1.25h-1.25zM85.6 193.55h0.85v1.25h-0.85zM66.75 192.1h1.25v1.25h-1.25zM69.65 192.1h1.25v1.25h-1.25zM72.55 192.1h1.25v1.25h-1.25zM75.45 192.1h1.25v1.25h-1.25zM78.35 192.1h1.25v1.25h-1.25zM81.25 192.1h1.25v1.25h-1.25zM84.15 192.1h1.25v1.25h-1.25zM65.65 190.65h0.9v1.25h-0.9zM68.2 190.65h1.25v1.25h-1.25zM71.1 190.65h1.25v1.25h-1.25zM74 190.65h1.25v1.25h-1.25zM76.9 190.65h1.25v1.25h-1.25zM79.8 190.65h1.25v1.25h-1.25zM82.7 190.65h1.25v1.25h-1.25zM85.6 190.65h0.85v1.25h-0.85zM66.75 189.2h1.25v1.25h-1.25zM69.65 189.2h1.25v1.25h-1.25zM72.55 189.2h1.25v1.25h-1.25zM75.45 189.2h1.25v1.25h-1.25zM78.35 189.2h1.25v1.25h-1.25zM81.25 189.2h1.25v1.25h-1.25zM84.15 189.2h1.25v1.25h-1.25zM65.65 187.75h0.9v1.25h-0.9zM68.2 187.75h1.25v1.25h-1.25zM71.1 187.75h1.25v1.25h-1.25zM74 187.75h1.25v1.25h-1.25zM76.9 187.75h1.25v1.25h-1.25zM79.8 187.75h1.25v1.25h-1.25zM82.7 187.75h1.25v1.25h-1.25zM85.6 187.75h0.85v1.25h-0.85zM66.75 186.3h1.25v1.25h-1.25zM69.65 186.3h1.25v1.25h-1.25zM72.55 186.3h1.25v1.25h-1.25zM75.45 186.3h1.25v1.25h-1.25zM78.35 186.3h1.25v1.25h-1.25zM81.25 186.3h1.25v1.25h-1.25zM84.15 186.3h1.25v1.25h-1.25zM65.65 184.85h0.9v1.25h-0.9zM68.2 184.85h1.25v1.25h-1.25zM71.1 184.85h1.25v1.25h-1.25zM74 184.85h1.25v1.25h-1.25zM76.9 184.85h1.25v1.25h-1.25zM79.8 184.85h1.25v1.25h-1.25zM82.7 184.85h1.25v1.25h-1.25zM85.6 184.85h0.85v1.25h-0.85zM66.75 183.4h1.25v1.25h-1.25zM69.65 183.4h1.25v1.25h-1.25zM72.55 183.4h1.25v1.25h-1.25zM75.45 183.4h1.25v1.25h-1.25zM78.35 183.4h1.25v1.25h-1.25zM81.25 183.4h1.25v1.25h-1.25zM84.15 183.4h1.25v1.25h-1.25zM65.65 181.95h0.9v1.25h-0.9zM68.2 181.95h1.25v1.25h-1.25zM71.1 181.95h1.25v1.25h-1.25zM74 181.95h1.25v1.25h-1.25zM76.9 181.95h1.25v1.25h-1.25zM79.8 181.95h1.25v1.25h-1.25zM82.7 181.95h1.25v1.25h-1.25zM85.6 181.95h0.85v1.25h-0.85zM66.75 180.5h1.25v1.25h-1.25zM69.65 180.5h1.25v1.25h-1.25zM72.55 180.5h1.25v1.25h-1.25zM75.45 180.5h1.25v1.25h-1.25zM78.35 180.5h1.25v1.25h-1.25zM81.25 180.5h1.25v1.25h-1.25zM84.15 180.5h1.25v1.25h-1.25zM65.65 179.05h0.9v1.25h-0.9zM68.2 179.05h1.25v1.25h-1.25zM71.1 179.05h1.25v1.25h-1.25zM74 179.05h1.25v1.25h-1.25zM76.9 179.05h1.25v1.25h-1.25zM79.8 179.05h1.25v1.25h-1.25zM82.7 179.05h1.25v1.25h-1.25zM85.6 179.05h0.85v1.25h-0.85zM66.75 177.6h1.25v1.25h-1.25zM69.65 177.6h1.25v1.25h-1.25zM72.55 177.6h1.25v1.25h-1.25zM75.45 177.6h1.25v1.25h-1.25zM78.35 177.6h1.25v1.25h-1.25zM81.25 177.6h1.25v1.25h-1.25zM84.15 177.6h1.25v1.25h-1.25zM65.65 176.15h0.9v1.25h-0.9zM68.2 176.15h1.25v1.25h-1.25zM71.1 176.15h1.25v1.25h-1.25zM74 176.15h1.25v1.25h-1.25zM76.9 176.15h1.25v1.25h-1.25zM79.8 176.15h1.25v1.25h-1.25zM82.7 176.15h1.25v1.25h-1.25zM85.6 176.15h0.85v1.25h-0.85zM66.75 174.7h1.25v1.25h-1.25zM69.65 174.7h1.25v1.25h-1.25zM72.55 174.7h1.25v1.25h-1.25zM75.45 174.7h1.25v1.25h-1.25zM78.35 174.7h1.25v1.25h-1.25zM81.25 174.7h1.25v1.25h-1.25zM84.15 174.7h1.25v1.25h-1.25zM65.65 173.25h0.9v1.25h-0.9zM68.2 173.25h1.25v1.25h-1.25zM71.1 173.25h1.25v1.25h-1.25zM74 173.25h1.25v1.25h-1.25zM76.9 173.25h1.25v1.25h-1.25zM79.8 173.25h1.25v1.25h-1.25zM82.7 173.25h1.25v1.25h-1.25zM85.6 173.25h0.85v1.25h-0.85zM66.75 171.8h1.25v1.25h-1.25zM69.65 171.8h1.25v1.25h-1.25zM72.55 171.8h1.25v1.25h-1.25zM75.45 171.8h1.25v1.25h-1.25zM78.35 171.8h1.25v1.25h-1.25zM81.25 171.8h1.25v1.25h-1.25zM84.15 171.8h1.25v1.25h-1.25zM65.65 170.35h0.9v1.25h-0.9zM68.2 170.35h1.25v1.25h-1.25zM71.1 170.35h1.25v1.25h-1.25zM74 170.35h1.25v1.25h-1.25zM76.9 170.35h1.25v1.25h-1.25zM79.8 170.35h1.25v1.25h-1.25zM82.7 170.35h1.25v1.25h-1.25zM85.6 170.35h0.85v1.25h-0.85zM66.75 168.9h1.25v1.25h-1.25zM69.65 168.9h1.25v1.25h-1.25zM72.55 168.9h1.25v1.25h-1.25zM75.45 168.9h1.25v1.25h-1.25zM78.35 168.9h1.25v1.25h-1.25zM81.25 168.9h1.25v1.25h-1.25zM84.15 168.9h1.25v1.25h-1.25zM65.65 167.45h0.9v1.25h-0.9zM68.2 167.45h1.25v1.25h-1.25zM71.1 167.45h1.25v1.25h-1.25zM74 167.45h1.25v1.25h-1.25zM76.9 167.45h1.25v1.25h-1.25zM79.8 167.45h1.25v1.25h-1.25zM82.7 167.45h1.25v1.25h-1.25zM85.6 167.45h0.85v1.25h-0.85zM66.75 166h1.25v1.25h-1.25zM69.65 166h1.25v1.25h-1.25zM72.55 166h1.25v1.25h-1.25zM75.45 166h1.25v1.25h-1.25zM78.35 166h1.25v1.25h-1.25zM81.25 166h1.25v1.25h-1.25zM84.15 166h1.25v1.25h-1.25z" fill="#fff"/>
<rect x="65.2" y="165.4" width="21.7" height="32.4" fill="none" stroke="#000" stroke-width="0.9"/>
<text x="76.05" y="155.7" font-size="7.0" font-weight="normal" text-anchor="middle" fill="#000">***</text>
<line x1="76.05" y1="197.8" x2="76.05" y2="200" stroke="#000" stroke-width="0.7"/>
<text x="77.25" y="205.4" font-size="6.4" font-weight="bold" text-anchor="end" fill="#111" transform="rotate(-45 77.25 205.4)">Sevoflurane</text>
<line x1="107.5" y1="147" x2="107.5" y2="154.3" stroke="#000" stroke-width="1.2"/>
<line x1="102.5" y1="147" x2="112.5" y2="147" stroke="#000" stroke-width="1.2"/>
<rect x="96.8" y="154.3" width="21.4" height="43.5" fill="url(#pH)" stroke="#000" stroke-width="0.9"/>
<text x="107.5" y="144.4" font-size="7.8" font-weight="normal" text-anchor="middle" fill="#000">*###</text>
<line x1="107.5" y1="197.8" x2="107.5" y2="200" stroke="#000" stroke-width="0.7"/>
<text x="108.7" y="205.4" font-size="6.4" font-weight="bold" text-anchor="end" fill="#111" transform="rotate(-45 108.7 205.4)">Sevo + anti-IL-17A</text>
<line x1="139.5" y1="158.9" x2="139.5" y2="167.5" stroke="#000" stroke-width="1.2"/>
<line x1="134.5" y1="158.9" x2="144.5" y2="158.9" stroke="#000" stroke-width="1.2"/>
<rect x="128.4" y="167.5" width="21.3" height="30.3" fill="url(#pV)" stroke="#000" stroke-width="0.9"/>
<text x="139.05" y="157.5" font-size="7.0" font-weight="normal" text-anchor="middle" fill="#000">***</text>
<line x1="139.05" y1="197.8" x2="139.05" y2="200" stroke="#000" stroke-width="0.7"/>
<text x="140.25" y="205.4" font-size="6.4" font-weight="bold" text-anchor="end" fill="#111" transform="rotate(-45 140.25 205.4)">Sevo + NC</text>
<line x1="28.5" y1="114" x2="28.5" y2="198" stroke="#222" stroke-width="1.0"/>
<line x1="28" y1="197.5" x2="155" y2="197.5" stroke="#111" stroke-width="1.0"/>
<line x1="26.1" y1="114" x2="28.5" y2="114" stroke="#222" stroke-width="0.8"/>
<text x="26.2" y="116.09" font-size="5.8" font-weight="bold" text-anchor="end" fill="#000">5</text>
<line x1="26.1" y1="130.8" x2="28.5" y2="130.8" stroke="#222" stroke-width="0.8"/>
<text x="26.2" y="132.89" font-size="5.8" font-weight="bold" text-anchor="end" fill="#000">4</text>
<line x1="26.1" y1="147.5" x2="28.5" y2="147.5" stroke="#222" stroke-width="0.8"/>
<text x="26.2" y="149.59" font-size="5.8" font-weight="bold" text-anchor="end" fill="#000">3</text>
<line x1="26.1" y1="164.2" x2="28.5" y2="164.2" stroke="#222" stroke-width="0.8"/>
<text x="26.2" y="166.29" font-size="5.8" font-weight="bold" text-anchor="end" fill="#000">2</text>
<line x1="26.1" y1="181" x2="28.5" y2="181" stroke="#222" stroke-width="0.8"/>
<text x="26.2" y="183.09" font-size="5.8" font-weight="bold" text-anchor="end" fill="#000">1</text>
<line x1="26.1" y1="197.8" x2="28.5" y2="197.8" stroke="#222" stroke-width="0.8"/>
<text x="26.2" y="199.89" font-size="5.8" font-weight="bold" text-anchor="end" fill="#000">0</text>
<text x="10.7" y="155.9" font-size="6.8" font-weight="bold" text-anchor="middle" fill="#111" transform="rotate(-90 10.7 155.9)">Number of times of</text>
<text x="18.2" y="155.9" font-size="6.8" font-weight="bold" text-anchor="middle" fill="#111" transform="rotate(-90 18.2 155.9)">crossing the platform</text>
<line x1="220.5" y1="125.5" x2="220.5" y2="132.5" stroke="#000" stroke-width="1.2"/>
<line x1="215.5" y1="125.5" x2="225.5" y2="125.5" stroke="#000" stroke-width="1.2"/>
<rect x="210.3" y="132.5" width="20.7" height="63.7" fill="url(#pDark)" stroke="#000" stroke-width="0.9"/>
<line x1="220.65" y1="196.2" x2="220.65" y2="198.4" stroke="#000" stroke-width="0.7"/>
<text x="221.85" y="203.8" font-size="6.4" font-weight="bold" text-anchor="end" fill="#111" transform="rotate(-45 221.85 203.8)">Control</text>
<line x1="251.5" y1="155.4" x2="251.5" y2="161.2" stroke="#000" stroke-width="1.2"/>
<line x1="246.5" y1="155.4" x2="256.5" y2="155.4" stroke="#000" stroke-width="1.2"/>
<rect x="241.2" y="161.2" width="20.9" height="35" fill="#000"/>
<path d="M241.65 194.85h0.9v1.25h-0.9zM244.2 194.85h1.25v1.25h-1.25zM247.1 194.85h1.25v1.25h-1.25zM250 194.85h1.25v1.25h-1.25zM252.9 194.85h1.25v1.25h-1.25zM255.8 194.85h1.25v1.25h-1.25zM258.7 194.85h1.25v1.25h-1.25zM261.6 194.85h0.05v1.25h-0.05zM242.75 193.4h1.25v1.25h-1.25zM245.65 193.4h1.25v1.25h-1.25zM248.55 193.4h1.25v1.25h-1.25zM251.45 193.4h1.25v1.25h-1.25zM254.35 193.4h1.25v1.25h-1.25zM257.25 193.4h1.25v1.25h-1.25zM260.15 193.4h1.25v1.25h-1.25zM241.65 191.95h0.9v1.25h-0.9zM244.2 191.95h1.25v1.25h-1.25zM247.1 191.95h1.25v1.25h-1.25zM250 191.95h1.25v1.25h-1.25zM252.9 191.95h1.25v1.25h-1.25zM255.8 191.95h1.25v1.25h-1.25zM258.7 191.95h1.25v1.25h-1.25zM261.6 191.95h0.05v1.25h-0.05zM242.75 190.5h1.25v1.25h-1.25zM245.65 190.5h1.25v1.25h-1.25zM248.55 190.5h1.25v1.25h-1.25zM251.45 190.5h1.25v1.25h-1.25zM254.35 190.5h1.25v1.25h-1.25zM257.25 190.5h1.25v1.25h-1.25zM260.15 190.5h1.25v1.25h-1.25zM241.65 189.05h0.9v1.25h-0.9zM244.2 189.05h1.25v1.25h-1.25zM247.1 189.05h1.25v1.25h-1.25zM250 189.05h1.25v1.25h-1.25zM252.9 189.05h1.25v1.25h-1.25zM255.8 189.05h1.25v1.25h-1.25zM258.7 189.05h1.25v1.25h-1.25zM261.6 189.05h0.05v1.25h-0.05zM242.75 187.6h1.25v1.25h-1.25zM245.65 187.6h1.25v1.25h-1.25zM248.55 187.6h1.25v1.25h-1.25zM251.45 187.6h1.25v1.25h-1.25zM254.35 187.6h1.25v1.25h-1.25zM257.25 187.6h1.25v1.25h-1.25zM260.15 187.6h1.25v1.25h-1.25zM241.65 186.15h0.9v1.25h-0.9zM244.2 186.15h1.25v1.25h-1.25zM247.1 186.15h1.25v1.25h-1.25zM250 186.15h1.25v1.25h-1.25zM252.9 186.15h1.25v1.25h-1.25zM255.8 186.15h1.25v1.25h-1.25zM258.7 186.15h1.25v1.25h-1.25zM261.6 186.15h0.05v1.25h-0.05zM242.75 184.7h1.25v1.25h-1.25zM245.65 184.7h1.25v1.25h-1.25zM248.55 184.7h1.25v1.25h-1.25zM251.45 184.7h1.25v1.25h-1.25zM254.35 184.7h1.25v1.25h-1.25zM257.25 184.7h1.25v1.25h-1.25zM260.15 184.7h1.25v1.25h-1.25zM241.65 183.25h0.9v1.25h-0.9zM244.2 183.25h1.25v1.25h-1.25zM247.1 183.25h1.25v1.25h-1.25zM250 183.25h1.25v1.25h-1.25zM252.9 183.25h1.25v1.25h-1.25zM255.8 183.25h1.25v1.25h-1.25zM258.7 183.25h1.25v1.25h-1.25zM261.6 183.25h0.05v1.25h-0.05zM242.75 181.8h1.25v1.25h-1.25zM245.65 181.8h1.25v1.25h-1.25zM248.55 181.8h1.25v1.25h-1.25zM251.45 181.8h1.25v1.25h-1.25zM254.35 181.8h1.25v1.25h-1.25zM257.25 181.8h1.25v1.25h-1.25zM260.15 181.8h1.25v1.25h-1.25zM241.65 180.35h0.9v1.25h-0.9zM244.2 180.35h1.25v1.25h-1.25zM247.1 180.35h1.25v1.25h-1.25zM250 180.35h1.25v1.25h-1.25zM252.9 180.35h1.25v1.25h-1.25zM255.8 180.35h1.25v1.25h-1.25zM258.7 180.35h1.25v1.25h-1.25zM261.6 180.35h0.05v1.25h-0.05zM242.75 178.9h1.25v1.25h-1.25zM245.65 178.9h1.25v1.25h-1.25zM248.55 178.9h1.25v1.25h-1.25zM251.45 178.9h1.25v1.25h-1.25zM254.35 178.9h1.25v1.25h-1.25zM257.25 178.9h1.25v1.25h-1.25zM260.15 178.9h1.25v1.25h-1.25zM241.65 177.45h0.9v1.25h-0.9zM244.2 177.45h1.25v1.25h-1.25zM247.1 177.45h1.25v1.25h-1.25zM250 177.45h1.25v1.25h-1.25zM252.9 177.45h1.25v1.25h-1.25zM255.8 177.45h1.25v1.25h-1.25zM258.7 177.45h1.25v1.25h-1.25zM261.6 177.45h0.05v1.25h-0.05zM242.75 176h1.25v1.25h-1.25zM245.65 176h1.25v1.25h-1.25zM248.55 176h1.25v1.25h-1.25zM251.45 176h1.25v1.25h-1.25zM254.35 176h1.25v1.25h-1.25zM257.25 176h1.25v1.25h-1.25zM260.15 176h1.25v1.25h-1.25zM241.65 174.55h0.9v1.25h-0.9zM244.2 174.55h1.25v1.25h-1.25zM247.1 174.55h1.25v1.25h-1.25zM250 174.55h1.25v1.25h-1.25zM252.9 174.55h1.25v1.25h-1.25zM255.8 174.55h1.25v1.25h-1.25zM258.7 174.55h1.25v1.25h-1.25zM261.6 174.55h0.05v1.25h-0.05zM242.75 173.1h1.25v1.25h-1.25zM245.65 173.1h1.25v1.25h-1.25zM248.55 173.1h1.25v1.25h-1.25zM251.45 173.1h1.25v1.25h-1.25zM254.35 173.1h1.25v1.25h-1.25zM257.25 173.1h1.25v1.25h-1.25zM260.15 173.1h1.25v1.25h-1.25zM241.65 171.65h0.9v1.25h-0.9zM244.2 171.65h1.25v1.25h-1.25zM247.1 171.65h1.25v1.25h-1.25zM250 171.65h1.25v1.25h-1.25zM252.9 171.65h1.25v1.25h-1.25zM255.8 171.65h1.25v1.25h-1.25zM258.7 171.65h1.25v1.25h-1.25zM261.6 171.65h0.05v1.25h-0.05zM242.75 170.2h1.25v1.25h-1.25zM245.65 170.2h1.25v1.25h-1.25zM248.55 170.2h1.25v1.25h-1.25zM251.45 170.2h1.25v1.25h-1.25zM254.35 170.2h1.25v1.25h-1.25zM257.25 170.2h1.25v1.25h-1.25zM260.15 170.2h1.25v1.25h-1.25zM241.65 168.75h0.9v1.25h-0.9zM244.2 168.75h1.25v1.25h-1.25zM247.1 168.75h1.25v1.25h-1.25zM250 168.75h1.25v1.25h-1.25zM252.9 168.75h1.25v1.25h-1.25zM255.8 168.75h1.25v1.25h-1.25zM258.7 168.75h1.25v1.25h-1.25zM261.6 168.75h0.05v1.25h-0.05zM242.75 167.3h1.25v1.25h-1.25zM245.65 167.3h1.25v1.25h-1.25zM248.55 167.3h1.25v1.25h-1.25zM251.45 167.3h1.25v1.25h-1.25zM254.35 167.3h1.25v1.25h-1.25zM257.25 167.3h1.25v1.25h-1.25zM260.15 167.3h1.25v1.25h-1.25zM241.65 165.85h0.9v1.25h-0.9zM244.2 165.85h1.25v1.25h-1.25zM247.1 165.85h1.25v1.25h-1.25zM250 165.85h1.25v1.25h-1.25zM252.9 165.85h1.25v1.25h-1.25zM255.8 165.85h1.25v1.25h-1.25zM258.7 165.85h1.25v1.25h-1.25zM261.6 165.85h0.05v1.25h-0.05zM242.75 164.4h1.25v1.25h-1.25zM245.65 164.4h1.25v1.25h-1.25zM248.55 164.4h1.25v1.25h-1.25zM251.45 164.4h1.25v1.25h-1.25zM254.35 164.4h1.25v1.25h-1.25zM257.25 164.4h1.25v1.25h-1.25zM260.15 164.4h1.25v1.25h-1.25zM241.65 162.95h0.9v1.25h-0.9zM244.2 162.95h1.25v1.25h-1.25zM247.1 162.95h1.25v1.25h-1.25zM250 162.95h1.25v1.25h-1.25zM252.9 162.95h1.25v1.25h-1.25zM255.8 162.95h1.25v1.25h-1.25zM258.7 162.95h1.25v1.25h-1.25zM261.6 162.95h0.05v1.25h-0.05zM242.75 161.65h1.25v1.1h-1.25zM245.65 161.65h1.25v1.1h-1.25zM248.55 161.65h1.25v1.1h-1.25zM251.45 161.65h1.25v1.1h-1.25zM254.35 161.65h1.25v1.1h-1.25zM257.25 161.65h1.25v1.1h-1.25zM260.15 161.65h1.25v1.1h-1.25z" fill="#fff"/>
<rect x="241.2" y="161.2" width="20.9" height="35" fill="none" stroke="#000" stroke-width="0.9"/>
<text x="251.65" y="153.4" font-size="7.0" font-weight="normal" text-anchor="middle" fill="#000">***</text>
<line x1="251.65" y1="196.2" x2="251.65" y2="198.4" stroke="#000" stroke-width="0.7"/>
<text x="252.85" y="203.8" font-size="6.4" font-weight="bold" text-anchor="end" fill="#111" transform="rotate(-45 252.85 203.8)">Sevoflurane</text>
<line x1="282.5" y1="138.3" x2="282.5" y2="144.1" stroke="#000" stroke-width="1.2"/>
<line x1="277.5" y1="138.3" x2="287.5" y2="138.3" stroke="#000" stroke-width="1.2"/>
<rect x="272.2" y="144.1" width="20.9" height="52.1" fill="url(#pH)" stroke="#000" stroke-width="0.9"/>
<text x="282.65" y="134.5" font-size="7.8" font-weight="normal" text-anchor="middle" fill="#000">**###</text>
<line x1="282.65" y1="196.2" x2="282.65" y2="198.4" stroke="#000" stroke-width="0.7"/>
<text x="283.85" y="203.8" font-size="6.4" font-weight="bold" text-anchor="end" fill="#111" transform="rotate(-45 283.85 203.8)">Sevo + anti-IL-17A</text>
<line x1="313.5" y1="155.8" x2="313.5" y2="162.3" stroke="#000" stroke-width="1.2"/>
<line x1="308.5" y1="155.8" x2="318.5" y2="155.8" stroke="#000" stroke-width="1.2"/>
<rect x="302.8" y="162.3" width="20.8" height="33.9" fill="url(#pV)" stroke="#000" stroke-width="0.9"/>
<text x="313.2" y="153.1" font-size="7.0" font-weight="normal" text-anchor="middle" fill="#000">***</text>
<line x1="313.2" y1="196.2" x2="313.2" y2="198.4" stroke="#000" stroke-width="0.7"/>
<text x="314.4" y="203.8" font-size="6.4" font-weight="bold" text-anchor="end" fill="#111" transform="rotate(-45 314.4 203.8)">Sevo + NC</text>
<line x1="205.5" y1="113.5" x2="205.5" y2="197" stroke="#222" stroke-width="1.0"/>
<line x1="205" y1="196.5" x2="330" y2="196.5" stroke="#111" stroke-width="1.0"/>
<line x1="203.1" y1="113.5" x2="205.5" y2="113.5" stroke="#222" stroke-width="0.8"/>
<text x="202.2" y="115.73" font-size="6.2" font-weight="bold" text-anchor="end" fill="#000">50</text>
<line x1="203.1" y1="130" x2="205.5" y2="130" stroke="#222" stroke-width="0.8"/>
<text x="202.2" y="132.23" font-size="6.2" font-weight="bold" text-anchor="end" fill="#000">40</text>
<line x1="203.1" y1="146.6" x2="205.5" y2="146.6" stroke="#222" stroke-width="0.8"/>
<text x="202.2" y="148.83" font-size="6.2" font-weight="bold" text-anchor="end" fill="#000">30</text>
<line x1="203.1" y1="163.1" x2="205.5" y2="163.1" stroke="#222" stroke-width="0.8"/>
<text x="202.2" y="165.33" font-size="6.2" font-weight="bold" text-anchor="end" fill="#000">20</text>
<line x1="203.1" y1="179.7" x2="205.5" y2="179.7" stroke="#222" stroke-width="0.8"/>
<text x="202.2" y="181.93" font-size="6.2" font-weight="bold" text-anchor="end" fill="#000">10</text>
<line x1="203.1" y1="196.2" x2="205.5" y2="196.2" stroke="#222" stroke-width="0.8"/>
<text x="202.2" y="198.43" font-size="6.2" font-weight="bold" text-anchor="end" fill="#000">0</text>
<text x="184" y="154.85" font-size="6.55" font-weight="bold" text-anchor="middle" fill="#111" transform="rotate(-90 184 154.85)">Time of staying in</text>
<text x="191.4" y="154.85" font-size="6.75" font-weight="bold" text-anchor="middle" fill="#111" transform="rotate(-90 191.4 154.85)">platform quadrant(s)</text>
<line x1="391.5" y1="123.6" x2="391.5" y2="130.6" stroke="#000" stroke-width="1.2"/>
<line x1="386.5" y1="123.6" x2="396.5" y2="123.6" stroke="#000" stroke-width="1.2"/>
<rect x="380.6" y="130.6" width="21.8" height="67" fill="url(#pDark)" stroke="#000" stroke-width="0.9"/>
<line x1="391.5" y1="197.6" x2="391.5" y2="199.8" stroke="#000" stroke-width="0.7"/>
<text x="392.7" y="205.2" font-size="6.4" font-weight="bold" text-anchor="end" fill="#111" transform="rotate(-45 392.7 205.2)">Control</text>
<line x1="422.5" y1="132.1" x2="422.5" y2="137.9" stroke="#000" stroke-width="1.2"/>
<line x1="417.5" y1="132.1" x2="427.5" y2="132.1" stroke="#000" stroke-width="1.2"/>
<rect x="411.8" y="137.9" width="21.7" height="59.7" fill="#000"/>
<path d="M412.25 196.25h0.9v1.25h-0.9zM414.8 196.25h1.25v1.25h-1.25zM417.7 196.25h1.25v1.25h-1.25zM420.6 196.25h1.25v1.25h-1.25zM423.5 196.25h1.25v1.25h-1.25zM426.4 196.25h1.25v1.25h-1.25zM429.3 196.25h1.25v1.25h-1.25zM432.2 196.25h0.85v1.25h-0.85zM413.35 194.8h1.25v1.25h-1.25zM416.25 194.8h1.25v1.25h-1.25zM419.15 194.8h1.25v1.25h-1.25zM422.05 194.8h1.25v1.25h-1.25zM424.95 194.8h1.25v1.25h-1.25zM427.85 194.8h1.25v1.25h-1.25zM430.75 194.8h1.25v1.25h-1.25zM412.25 193.35h0.9v1.25h-0.9zM414.8 193.35h1.25v1.25h-1.25zM417.7 193.35h1.25v1.25h-1.25zM420.6 193.35h1.25v1.25h-1.25zM423.5 193.35h1.25v1.25h-1.25zM426.4 193.35h1.25v1.25h-1.25zM429.3 193.35h1.25v1.25h-1.25zM432.2 193.35h0.85v1.25h-0.85zM413.35 191.9h1.25v1.25h-1.25zM416.25 191.9h1.25v1.25h-1.25zM419.15 191.9h1.25v1.25h-1.25zM422.05 191.9h1.25v1.25h-1.25zM424.95 191.9h1.25v1.25h-1.25zM427.85 191.9h1.25v1.25h-1.25zM430.75 191.9h1.25v1.25h-1.25zM412.25 190.45h0.9v1.25h-0.9zM414.8 190.45h1.25v1.25h-1.25zM417.7 190.45h1.25v1.25h-1.25zM420.6 190.45h1.25v1.25h-1.25zM423.5 190.45h1.25v1.25h-1.25zM426.4 190.45h1.25v1.25h-1.25zM429.3 190.45h1.25v1.25h-1.25zM432.2 190.45h0.85v1.25h-0.85zM413.35 189h1.25v1.25h-1.25zM416.25 189h1.25v1.25h-1.25zM419.15 189h1.25v1.25h-1.25zM422.05 189h1.25v1.25h-1.25zM424.95 189h1.25v1.25h-1.25zM427.85 189h1.25v1.25h-1.25zM430.75 189h1.25v1.25h-1.25zM412.25 187.55h0.9v1.25h-0.9zM414.8 187.55h1.25v1.25h-1.25zM417.7 187.55h1.25v1.25h-1.25zM420.6 187.55h1.25v1.25h-1.25zM423.5 187.55h1.25v1.25h-1.25zM426.4 187.55h1.25v1.25h-1.25zM429.3 187.55h1.25v1.25h-1.25zM432.2 187.55h0.85v1.25h-0.85zM413.35 186.1h1.25v1.25h-1.25zM416.25 186.1h1.25v1.25h-1.25zM419.15 186.1h1.25v1.25h-1.25zM422.05 186.1h1.25v1.25h-1.25zM424.95 186.1h1.25v1.25h-1.25zM427.85 186.1h1.25v1.25h-1.25zM430.75 186.1h1.25v1.25h-1.25zM412.25 184.65h0.9v1.25h-0.9zM414.8 184.65h1.25v1.25h-1.25zM417.7 184.65h1.25v1.25h-1.25zM420.6 184.65h1.25v1.25h-1.25zM423.5 184.65h1.25v1.25h-1.25zM426.4 184.65h1.25v1.25h-1.25zM429.3 184.65h1.25v1.25h-1.25zM432.2 184.65h0.85v1.25h-0.85zM413.35 183.2h1.25v1.25h-1.25zM416.25 183.2h1.25v1.25h-1.25zM419.15 183.2h1.25v1.25h-1.25zM422.05 183.2h1.25v1.25h-1.25zM424.95 183.2h1.25v1.25h-1.25zM427.85 183.2h1.25v1.25h-1.25zM430.75 183.2h1.25v1.25h-1.25zM412.25 181.75h0.9v1.25h-0.9zM414.8 181.75h1.25v1.25h-1.25zM417.7 181.75h1.25v1.25h-1.25zM420.6 181.75h1.25v1.25h-1.25zM423.5 181.75h1.25v1.25h-1.25zM426.4 181.75h1.25v1.25h-1.25zM429.3 181.75h1.25v1.25h-1.25zM432.2 181.75h0.85v1.25h-0.85zM413.35 180.3h1.25v1.25h-1.25zM416.25 180.3h1.25v1.25h-1.25zM419.15 180.3h1.25v1.25h-1.25zM422.05 180.3h1.25v1.25h-1.25zM424.95 180.3h1.25v1.25h-1.25zM427.85 180.3h1.25v1.25h-1.25zM430.75 180.3h1.25v1.25h-1.25zM412.25 178.85h0.9v1.25h-0.9zM414.8 178.85h1.25v1.25h-1.25zM417.7 178.85h1.25v1.25h-1.25zM420.6 178.85h1.25v1.25h-1.25zM423.5 178.85h1.25v1.25h-1.25zM426.4 178.85h1.25v1.25h-1.25zM429.3 178.85h1.25v1.25h-1.25zM432.2 178.85h0.85v1.25h-0.85zM413.35 177.4h1.25v1.25h-1.25zM416.25 177.4h1.25v1.25h-1.25zM419.15 177.4h1.25v1.25h-1.25zM422.05 177.4h1.25v1.25h-1.25zM424.95 177.4h1.25v1.25h-1.25zM427.85 177.4h1.25v1.25h-1.25zM430.75 177.4h1.25v1.25h-1.25zM412.25 175.95h0.9v1.25h-0.9zM414.8 175.95h1.25v1.25h-1.25zM417.7 175.95h1.25v1.25h-1.25zM420.6 175.95h1.25v1.25h-1.25zM423.5 175.95h1.25v1.25h-1.25zM426.4 175.95h1.25v1.25h-1.25zM429.3 175.95h1.25v1.25h-1.25zM432.2 175.95h0.85v1.25h-0.85zM413.35 174.5h1.25v1.25h-1.25zM416.25 174.5h1.25v1.25h-1.25zM419.15 174.5h1.25v1.25h-1.25zM422.05 174.5h1.25v1.25h-1.25zM424.95 174.5h1.25v1.25h-1.25zM427.85 174.5h1.25v1.25h-1.25zM430.75 174.5h1.25v1.25h-1.25zM412.25 173.05h0.9v1.25h-0.9zM414.8 173.05h1.25v1.25h-1.25zM417.7 173.05h1.25v1.25h-1.25zM420.6 173.05h1.25v1.25h-1.25zM423.5 173.05h1.25v1.25h-1.25zM426.4 173.05h1.25v1.25h-1.25zM429.3 173.05h1.25v1.25h-1.25zM432.2 173.05h0.85v1.25h-0.85zM413.35 171.6h1.25v1.25h-1.25zM416.25 171.6h1.25v1.25h-1.25zM419.15 171.6h1.25v1.25h-1.25zM422.05 171.6h1.25v1.25h-1.25zM424.95 171.6h1.25v1.25h-1.25zM427.85 171.6h1.25v1.25h-1.25zM430.75 171.6h1.25v1.25h-1.25zM412.25 170.15h0.9v1.25h-0.9zM414.8 170.15h1.25v1.25h-1.25zM417.7 170.15h1.25v1.25h-1.25zM420.6 170.15h1.25v1.25h-1.25zM423.5 170.15h1.25v1.25h-1.25zM426.4 170.15h1.25v1.25h-1.25zM429.3 170.15h1.25v1.25h-1.25zM432.2 170.15h0.85v1.25h-0.85zM413.35 168.7h1.25v1.25h-1.25zM416.25 168.7h1.25v1.25h-1.25zM419.15 168.7h1.25v1.25h-1.25zM422.05 168.7h1.25v1.25h-1.25zM424.95 168.7h1.25v1.25h-1.25zM427.85 168.7h1.25v1.25h-1.25zM430.75 168.7h1.25v1.25h-1.25zM412.25 167.25h0.9v1.25h-0.9zM414.8 167.25h1.25v1.25h-1.25zM417.7 167.25h1.25v1.25h-1.25zM420.6 167.25h1.25v1.25h-1.25zM423.5 167.25h1.25v1.25h-1.25zM426.4 167.25h1.25v1.25h-1.25zM429.3 167.25h1.25v1.25h-1.25zM432.2 167.25h0.85v1.25h-0.85zM413.35 165.8h1.25v1.25h-1.25zM416.25 165.8h1.25v1.25h-1.25zM419.15 165.8h1.25v1.25h-1.25zM422.05 165.8h1.25v1.25h-1.25zM424.95 165.8h1.25v1.25h-1.25zM427.85 165.8h1.25v1.25h-1.25zM430.75 165.8h1.25v1.25h-1.25zM412.25 164.35h0.9v1.25h-0.9zM414.8 164.35h1.25v1.25h-1.25zM417.7 164.35h1.25v1.25h-1.25zM420.6 164.35h1.25v1.25h-1.25zM423.5 164.35h1.25v1.25h-1.25zM426.4 164.35h1.25v1.25h-1.25zM429.3 164.35h1.25v1.25h-1.25zM432.2 164.35h0.85v1.25h-0.85zM413.35 162.9h1.25v1.25h-1.25zM416.25 162.9h1.25v1.25h-1.25zM419.15 162.9h1.25v1.25h-1.25zM422.05 162.9h1.25v1.25h-1.25zM424.95 162.9h1.25v1.25h-1.25zM427.85 162.9h1.25v1.25h-1.25zM430.75 162.9h1.25v1.25h-1.25zM412.25 161.45h0.9v1.25h-0.9zM414.8 161.45h1.25v1.25h-1.25zM417.7 161.45h1.25v1.25h-1.25zM420.6 161.45h1.25v1.25h-1.25zM423.5 161.45h1.25v1.25h-1.25zM426.4 161.45h1.25v1.25h-1.25zM429.3 161.45h1.25v1.25h-1.25zM432.2 161.45h0.85v1.25h-0.85zM413.35 160h1.25v1.25h-1.25zM416.25 160h1.25v1.25h-1.25zM419.15 160h1.25v1.25h-1.25zM422.05 160h1.25v1.25h-1.25zM424.95 160h1.25v1.25h-1.25zM427.85 160h1.25v1.25h-1.25zM430.75 160h1.25v1.25h-1.25zM412.25 158.55h0.9v1.25h-0.9zM414.8 158.55h1.25v1.25h-1.25zM417.7 158.55h1.25v1.25h-1.25zM420.6 158.55h1.25v1.25h-1.25zM423.5 158.55h1.25v1.25h-1.25zM426.4 158.55h1.25v1.25h-1.25zM429.3 158.55h1.25v1.25h-1.25zM432.2 158.55h0.85v1.25h-0.85zM413.35 157.1h1.25v1.25h-1.25zM416.25 157.1h1.25v1.25h-1.25zM419.15 157.1h1.25v1.25h-1.25zM422.05 157.1h1.25v1.25h-1.25zM424.95 157.1h1.25v1.25h-1.25zM427.85 157.1h1.25v1.25h-1.25zM430.75 157.1h1.25v1.25h-1.25zM412.25 155.65h0.9v1.25h-0.9zM414.8 155.65h1.25v1.25h-1.25zM417.7 155.65h1.25v1.25h-1.25zM420.6 155.65h1.25v1.25h-1.25zM423.5 155.65h1.25v1.25h-1.25zM426.4 155.65h1.25v1.25h-1.25zM429.3 155.65h1.25v1.25h-1.25zM432.2 155.65h0.85v1.25h-0.85zM413.35 154.2h1.25v1.25h-1.25zM416.25 154.2h1.25v1.25h-1.25zM419.15 154.2h1.25v1.25h-1.25zM422.05 154.2h1.25v1.25h-1.25zM424.95 154.2h1.25v1.25h-1.25zM427.85 154.2h1.25v1.25h-1.25zM430.75 154.2h1.25v1.25h-1.25zM412.25 152.75h0.9v1.25h-0.9zM414.8 152.75h1.25v1.25h-1.25zM417.7 152.75h1.25v1.25h-1.25zM420.6 152.75h1.25v1.25h-1.25zM423.5 152.75h1.25v1.25h-1.25zM426.4 152.75h1.25v1.25h-1.25zM429.3 152.75h1.25v1.25h-1.25zM432.2 152.75h0.85v1.25h-0.85zM413.35 151.3h1.25v1.25h-1.25zM416.25 151.3h1.25v1.25h-1.25zM419.15 151.3h1.25v1.25h-1.25zM422.05 151.3h1.25v1.25h-1.25zM424.95 151.3h1.25v1.25h-1.25zM427.85 151.3h1.25v1.25h-1.25zM430.75 151.3h1.25v1.25h-1.25zM412.25 149.85h0.9v1.25h-0.9zM414.8 149.85h1.25v1.25h-1.25zM417.7 149.85h1.25v1.25h-1.25zM420.6 149.85h1.25v1.25h-1.25zM423.5 149.85h1.25v1.25h-1.25zM426.4 149.85h1.25v1.25h-1.25zM429.3 149.85h1.25v1.25h-1.25zM432.2 149.85h0.85v1.25h-0.85zM413.35 148.4h1.25v1.25h-1.25zM416.25 148.4h1.25v1.25h-1.25zM419.15 148.4h1.25v1.25h-1.25zM422.05 148.4h1.25v1.25h-1.25zM424.95 148.4h1.25v1.25h-1.25zM427.85 148.4h1.25v1.25h-1.25zM430.75 148.4h1.25v1.25h-1.25zM412.25 146.95h0.9v1.25h-0.9zM414.8 146.95h1.25v1.25h-1.25zM417.7 146.95h1.25v1.25h-1.25zM420.6 146.95h1.25v1.25h-1.25zM423.5 146.95h1.25v1.25h-1.25zM426.4 146.95h1.25v1.25h-1.25zM429.3 146.95h1.25v1.25h-1.25zM432.2 146.95h0.85v1.25h-0.85zM413.35 145.5h1.25v1.25h-1.25zM416.25 145.5h1.25v1.25h-1.25zM419.15 145.5h1.25v1.25h-1.25zM422.05 145.5h1.25v1.25h-1.25zM424.95 145.5h1.25v1.25h-1.25zM427.85 145.5h1.25v1.25h-1.25zM430.75 145.5h1.25v1.25h-1.25zM412.25 144.05h0.9v1.25h-0.9zM414.8 144.05h1.25v1.25h-1.25zM417.7 144.05h1.25v1.25h-1.25zM420.6 144.05h1.25v1.25h-1.25zM423.5 144.05h1.25v1.25h-1.25zM426.4 144.05h1.25v1.25h-1.25zM429.3 144.05h1.25v1.25h-1.25zM432.2 144.05h0.85v1.25h-0.85zM413.35 142.6h1.25v1.25h-1.25zM416.25 142.6h1.25v1.25h-1.25zM419.15 142.6h1.25v1.25h-1.25zM422.05 142.6h1.25v1.25h-1.25zM424.95 142.6h1.25v1.25h-1.25zM427.85 142.6h1.25v1.25h-1.25zM430.75 142.6h1.25v1.25h-1.25zM412.25 141.15h0.9v1.25h-0.9zM414.8 141.15h1.25v1.25h-1.25zM417.7 141.15h1.25v1.25h-1.25zM420.6 141.15h1.25v1.25h-1.25zM423.5 141.15h1.25v1.25h-1.25zM426.4 141.15h1.25v1.25h-1.25zM429.3 141.15h1.25v1.25h-1.25zM432.2 141.15h0.85v1.25h-0.85zM413.35 139.7h1.25v1.25h-1.25zM416.25 139.7h1.25v1.25h-1.25zM419.15 139.7h1.25v1.25h-1.25zM422.05 139.7h1.25v1.25h-1.25zM424.95 139.7h1.25v1.25h-1.25zM427.85 139.7h1.25v1.25h-1.25zM430.75 139.7h1.25v1.25h-1.25zM412.25 138.35h0.9v1.15h-0.9zM414.8 138.35h1.25v1.15h-1.25zM417.7 138.35h1.25v1.15h-1.25zM420.6 138.35h1.25v1.15h-1.25zM423.5 138.35h1.25v1.15h-1.25zM426.4 138.35h1.25v1.15h-1.25zM429.3 138.35h1.25v1.15h-1.25zM432.2 138.35h0.85v1.15h-0.85z" fill="#fff"/>
<rect x="411.8" y="137.9" width="21.7" height="59.7" fill="none" stroke="#000" stroke-width="0.9"/>
<line x1="422.65" y1="197.6" x2="422.65" y2="199.8" stroke="#000" stroke-width="0.7"/>
<text x="423.85" y="205.2" font-size="6.4" font-weight="bold" text-anchor="end" fill="#111" transform="rotate(-45 423.85 205.2)">Sevoflurane</text>
<line x1="454.5" y1="128.2" x2="454.5" y2="135.2" stroke="#000" stroke-width="1.2"/>
<line x1="449.5" y1="128.2" x2="459.5" y2="128.2" stroke="#000" stroke-width="1.2"/>
<rect x="443.7" y="135.2" width="21.3" height="62.4" fill="url(#pH)" stroke="#000" stroke-width="0.9"/>
<line x1="454.35" y1="197.6" x2="454.35" y2="199.8" stroke="#000" stroke-width="0.7"/>
<text x="455.55" y="205.2" font-size="6.4" font-weight="bold" text-anchor="end" fill="#111" transform="rotate(-45 455.55 205.2)">Sevo + anti-IL-17A</text>
<line x1="486.5" y1="130.6" x2="486.5" y2="136.4" stroke="#000" stroke-width="1.2"/>
<line x1="481.5" y1="130.6" x2="491.5" y2="130.6" stroke="#000" stroke-width="1.2"/>
<rect x="475.5" y="136.4" width="21.1" height="61.2" fill="url(#pV)" stroke="#000" stroke-width="0.9"/>
<line x1="486.05" y1="197.6" x2="486.05" y2="199.8" stroke="#000" stroke-width="0.7"/>
<text x="487.25" y="205.2" font-size="6.4" font-weight="bold" text-anchor="end" fill="#111" transform="rotate(-45 487.25 205.2)">Sevo + NC</text>
<line x1="375.5" y1="114" x2="375.5" y2="198" stroke="#222" stroke-width="1.0"/>
<line x1="375" y1="197.5" x2="502.4" y2="197.5" stroke="#111" stroke-width="1.0"/>
<line x1="373.1" y1="114" x2="375.5" y2="114" stroke="#222" stroke-width="0.8"/>
<text x="373.1" y="116.09" font-size="5.8" font-weight="bold" text-anchor="end" fill="#000">6</text>
<line x1="373.1" y1="141.9" x2="375.5" y2="141.9" stroke="#222" stroke-width="0.8"/>
<text x="373.1" y="143.99" font-size="5.8" font-weight="bold" text-anchor="end" fill="#000">4</text>
<line x1="373.1" y1="169.8" x2="375.5" y2="169.8" stroke="#222" stroke-width="0.8"/>
<text x="373.1" y="171.89" font-size="5.8" font-weight="bold" text-anchor="end" fill="#000">2</text>
<line x1="373.1" y1="197.6" x2="375.5" y2="197.6" stroke="#222" stroke-width="0.8"/>
<text x="373.1" y="199.69" font-size="5.8" font-weight="bold" text-anchor="end" fill="#000">0</text>
<text x="357" y="155.8" font-size="6.8" font-weight="bold" text-anchor="middle" fill="#111" transform="rotate(-90 357 155.8)">Number of times of</text>
<text x="365.6" y="155.8" font-size="6.8" font-weight="bold" text-anchor="middle" fill="#111" transform="rotate(-90 365.6 155.8)">crossing the platform</text>
<line x1="561.5" y1="126.3" x2="561.5" y2="133.7" stroke="#000" stroke-width="1.2"/>
<line x1="556.5" y1="126.3" x2="566.5" y2="126.3" stroke="#000" stroke-width="1.2"/>
<rect x="551.4" y="133.7" width="20.5" height="66.6" fill="url(#pDark)" stroke="#000" stroke-width="0.9"/>
<line x1="561.65" y1="200.3" x2="561.65" y2="202.5" stroke="#000" stroke-width="0.7"/>
<text x="562.85" y="207.9" font-size="6.4" font-weight="bold" text-anchor="end" fill="#111" transform="rotate(-45 562.85 207.9)">Control</text>
<line x1="592.5" y1="131.2" x2="592.5" y2="137.8" stroke="#000" stroke-width="1.2"/>
<line x1="587.5" y1="131.2" x2="597.5" y2="131.2" stroke="#000" stroke-width="1.2"/>
<rect x="581.9" y="137.8" width="21.4" height="62.5" fill="#000"/>
<path d="M582.35 198.95h0.9v1.25h-0.9zM584.9 198.95h1.25v1.25h-1.25zM587.8 198.95h1.25v1.25h-1.25zM590.7 198.95h1.25v1.25h-1.25zM593.6 198.95h1.25v1.25h-1.25zM596.5 198.95h1.25v1.25h-1.25zM599.4 198.95h1.25v1.25h-1.25zM602.3 198.95h0.55v1.25h-0.55zM583.45 197.5h1.25v1.25h-1.25zM586.35 197.5h1.25v1.25h-1.25zM589.25 197.5h1.25v1.25h-1.25zM592.15 197.5h1.25v1.25h-1.25zM595.05 197.5h1.25v1.25h-1.25zM597.95 197.5h1.25v1.25h-1.25zM600.85 197.5h1.25v1.25h-1.25zM582.35 196.05h0.9v1.25h-0.9zM584.9 196.05h1.25v1.25h-1.25zM587.8 196.05h1.25v1.25h-1.25zM590.7 196.05h1.25v1.25h-1.25zM593.6 196.05h1.25v1.25h-1.25zM596.5 196.05h1.25v1.25h-1.25zM599.4 196.05h1.25v1.25h-1.25zM602.3 196.05h0.55v1.25h-0.55zM583.45 194.6h1.25v1.25h-1.25zM586.35 194.6h1.25v1.25h-1.25zM589.25 194.6h1.25v1.25h-1.25zM592.15 194.6h1.25v1.25h-1.25zM595.05 194.6h1.25v1.25h-1.25zM597.95 194.6h1.25v1.25h-1.25zM600.85 194.6h1.25v1.25h-1.25zM582.35 193.15h0.9v1.25h-0.9zM584.9 193.15h1.25v1.25h-1.25zM587.8 193.15h1.25v1.25h-1.25zM590.7 193.15h1.25v1.25h-1.25zM593.6 193.15h1.25v1.25h-1.25zM596.5 193.15h1.25v1.25h-1.25zM599.4 193.15h1.25v1.25h-1.25zM602.3 193.15h0.55v1.25h-0.55zM583.45 191.7h1.25v1.25h-1.25zM586.35 191.7h1.25v1.25h-1.25zM589.25 191.7h1.25v1.25h-1.25zM592.15 191.7h1.25v1.25h-1.25zM595.05 191.7h1.25v1.25h-1.25zM597.95 191.7h1.25v1.25h-1.25zM600.85 191.7h1.25v1.25h-1.25zM582.35 190.25h0.9v1.25h-0.9zM584.9 190.25h1.25v1.25h-1.25zM587.8 190.25h1.25v1.25h-1.25zM590.7 190.25h1.25v1.25h-1.25zM593.6 190.25h1.25v1.25h-1.25zM596.5 190.25h1.25v1.25h-1.25zM599.4 190.25h1.25v1.25h-1.25zM602.3 190.25h0.55v1.25h-0.55zM583.45 188.8h1.25v1.25h-1.25zM586.35 188.8h1.25v1.25h-1.25zM589.25 188.8h1.25v1.25h-1.25zM592.15 188.8h1.25v1.25h-1.25zM595.05 188.8h1.25v1.25h-1.25zM597.95 188.8h1.25v1.25h-1.25zM600.85 188.8h1.25v1.25h-1.25zM582.35 187.35h0.9v1.25h-0.9zM584.9 187.35h1.25v1.25h-1.25zM587.8 187.35h1.25v1.25h-1.25zM590.7 187.35h1.25v1.25h-1.25zM593.6 187.35h1.25v1.25h-1.25zM596.5 187.35h1.25v1.25h-1.25zM599.4 187.35h1.25v1.25h-1.25zM602.3 187.35h0.55v1.25h-0.55zM583.45 185.9h1.25v1.25h-1.25zM586.35 185.9h1.25v1.25h-1.25zM589.25 185.9h1.25v1.25h-1.25zM592.15 185.9h1.25v1.25h-1.25zM595.05 185.9h1.25v1.25h-1.25zM597.95 185.9h1.25v1.25h-1.25zM600.85 185.9h1.25v1.25h-1.25zM582.35 184.45h0.9v1.25h-0.9zM584.9 184.45h1.25v1.25h-1.25zM587.8 184.45h1.25v1.25h-1.25zM590.7 184.45h1.25v1.25h-1.25zM593.6 184.45h1.25v1.25h-1.25zM596.5 184.45h1.25v1.25h-1.25zM599.4 184.45h1.25v1.25h-1.25zM602.3 184.45h0.55v1.25h-0.55zM583.45 183h1.25v1.25h-1.25zM586.35 183h1.25v1.25h-1.25zM589.25 183h1.25v1.25h-1.25zM592.15 183h1.25v1.25h-1.25zM595.05 183h1.25v1.25h-1.25zM597.95 183h1.25v1.25h-1.25zM600.85 183h1.25v1.25h-1.25zM582.35 181.55h0.9v1.25h-0.9zM584.9 181.55h1.25v1.25h-1.25zM587.8 181.55h1.25v1.25h-1.25zM590.7 181.55h1.25v1.25h-1.25zM593.6 181.55h1.25v1.25h-1.25zM596.5 181.55h1.25v1.25h-1.25zM599.4 181.55h1.25v1.25h-1.25zM602.3 181.55h0.55v1.25h-0.55zM583.45 180.1h1.25v1.25h-1.25zM586.35 180.1h1.25v1.25h-1.25zM589.25 180.1h1.25v1.25h-1.25zM592.15 180.1h1.25v1.25h-1.25zM595.05 180.1h1.25v1.25h-1.25zM597.95 180.1h1.25v1.25h-1.25zM600.85 180.1h1.25v1.25h-1.25zM582.35 178.65h0.9v1.25h-0.9zM584.9 178.65h1.25v1.25h-1.25zM587.8 178.65h1.25v1.25h-1.25zM590.7 178.65h1.25v1.25h-1.25zM593.6 178.65h1.25v1.25h-1.25zM596.5 178.65h1.25v1.25h-1.25zM599.4 178.65h1.25v1.25h-1.25zM602.3 178.65h0.55v1.25h-0.55zM583.45 177.2h1.25v1.25h-1.25zM586.35 177.2h1.25v1.25h-1.25zM589.25 177.2h1.25v1.25h-1.25zM592.15 177.2h1.25v1.25h-1.25zM595.05 177.2h1.25v1.25h-1.25zM597.95 177.2h1.25v1.25h-1.25zM600.85 177.2h1.25v1.25h-1.25zM582.35 175.75h0.9v1.25h-0.9zM584.9 175.75h1.25v1.25h-1.25zM587.8 175.75h1.25v1.25h-1.25zM590.7 175.75h1.25v1.25h-1.25zM593.6 175.75h1.25v1.25h-1.25zM596.5 175.75h1.25v1.25h-1.25zM599.4 175.75h1.25v1.25h-1.25zM602.3 175.75h0.55v1.25h-0.55zM583.45 174.3h1.25v1.25h-1.25zM586.35 174.3h1.25v1.25h-1.25zM589.25 174.3h1.25v1.25h-1.25zM592.15 174.3h1.25v1.25h-1.25zM595.05 174.3h1.25v1.25h-1.25zM597.95 174.3h1.25v1.25h-1.25zM600.85 174.3h1.25v1.25h-1.25zM582.35 172.85h0.9v1.25h-0.9zM584.9 172.85h1.25v1.25h-1.25zM587.8 172.85h1.25v1.25h-1.25zM590.7 172.85h1.25v1.25h-1.25zM593.6 172.85h1.25v1.25h-1.25zM596.5 172.85h1.25v1.25h-1.25zM599.4 172.85h1.25v1.25h-1.25zM602.3 172.85h0.55v1.25h-0.55zM583.45 171.4h1.25v1.25h-1.25zM586.35 171.4h1.25v1.25h-1.25zM589.25 171.4h1.25v1.25h-1.25zM592.15 171.4h1.25v1.25h-1.25zM595.05 171.4h1.25v1.25h-1.25zM597.95 171.4h1.25v1.25h-1.25zM600.85 171.4h1.25v1.25h-1.25zM582.35 169.95h0.9v1.25h-0.9zM584.9 169.95h1.25v1.25h-1.25zM587.8 169.95h1.25v1.25h-1.25zM590.7 169.95h1.25v1.25h-1.25zM593.6 169.95h1.25v1.25h-1.25zM596.5 169.95h1.25v1.25h-1.25zM599.4 169.95h1.25v1.25h-1.25zM602.3 169.95h0.55v1.25h-0.55zM583.45 168.5h1.25v1.25h-1.25zM586.35 168.5h1.25v1.25h-1.25zM589.25 168.5h1.25v1.25h-1.25zM592.15 168.5h1.25v1.25h-1.25zM595.05 168.5h1.25v1.25h-1.25zM597.95 168.5h1.25v1.25h-1.25zM600.85 168.5h1.25v1.25h-1.25zM582.35 167.05h0.9v1.25h-0.9zM584.9 167.05h1.25v1.25h-1.25zM587.8 167.05h1.25v1.25h-1.25zM590.7 167.05h1.25v1.25h-1.25zM593.6 167.05h1.25v1.25h-1.25zM596.5 167.05h1.25v1.25h-1.25zM599.4 167.05h1.25v1.25h-1.25zM602.3 167.05h0.55v1.25h-0.55zM583.45 165.6h1.25v1.25h-1.25zM586.35 165.6h1.25v1.25h-1.25zM589.25 165.6h1.25v1.25h-1.25zM592.15 165.6h1.25v1.25h-1.25zM595.05 165.6h1.25v1.25h-1.25zM597.95 165.6h1.25v1.25h-1.25zM600.85 165.6h1.25v1.25h-1.25zM582.35 164.15h0.9v1.25h-0.9zM584.9 164.15h1.25v1.25h-1.25zM587.8 164.15h1.25v1.25h-1.25zM590.7 164.15h1.25v1.25h-1.25zM593.6 164.15h1.25v1.25h-1.25zM596.5 164.15h1.25v1.25h-1.25zM599.4 164.15h1.25v1.25h-1.25zM602.3 164.15h0.55v1.25h-0.55zM583.45 162.7h1.25v1.25h-1.25zM586.35 162.7h1.25v1.25h-1.25zM589.25 162.7h1.25v1.25h-1.25zM592.15 162.7h1.25v1.25h-1.25zM595.05 162.7h1.25v1.25h-1.25zM597.95 162.7h1.25v1.25h-1.25zM600.85 162.7h1.25v1.25h-1.25zM582.35 161.25h0.9v1.25h-0.9zM584.9 161.25h1.25v1.25h-1.25zM587.8 161.25h1.25v1.25h-1.25zM590.7 161.25h1.25v1.25h-1.25zM593.6 161.25h1.25v1.25h-1.25zM596.5 161.25h1.25v1.25h-1.25zM599.4 161.25h1.25v1.25h-1.25zM602.3 161.25h0.55v1.25h-0.55zM583.45 159.8h1.25v1.25h-1.25zM586.35 159.8h1.25v1.25h-1.25zM589.25 159.8h1.25v1.25h-1.25zM592.15 159.8h1.25v1.25h-1.25zM595.05 159.8h1.25v1.25h-1.25zM597.95 159.8h1.25v1.25h-1.25zM600.85 159.8h1.25v1.25h-1.25zM582.35 158.35h0.9v1.25h-0.9zM584.9 158.35h1.25v1.25h-1.25zM587.8 158.35h1.25v1.25h-1.25zM590.7 158.35h1.25v1.25h-1.25zM593.6 158.35h1.25v1.25h-1.25zM596.5 158.35h1.25v1.25h-1.25zM599.4 158.35h1.25v1.25h-1.25zM602.3 158.35h0.55v1.25h-0.55zM583.45 156.9h1.25v1.25h-1.25zM586.35 156.9h1.25v1.25h-1.25zM589.25 156.9h1.25v1.25h-1.25zM592.15 156.9h1.25v1.25h-1.25zM595.05 156.9h1.25v1.25h-1.25zM597.95 156.9h1.25v1.25h-1.25zM600.85 156.9h1.25v1.25h-1.25zM582.35 155.45h0.9v1.25h-0.9zM584.9 155.45h1.25v1.25h-1.25zM587.8 155.45h1.25v1.25h-1.25zM590.7 155.45h1.25v1.25h-1.25zM593.6 155.45h1.25v1.25h-1.25zM596.5 155.45h1.25v1.25h-1.25zM599.4 155.45h1.25v1.25h-1.25zM602.3 155.45h0.55v1.25h-0.55zM583.45 154h1.25v1.25h-1.25zM586.35 154h1.25v1.25h-1.25zM589.25 154h1.25v1.25h-1.25zM592.15 154h1.25v1.25h-1.25zM595.05 154h1.25v1.25h-1.25zM597.95 154h1.25v1.25h-1.25zM600.85 154h1.25v1.25h-1.25zM582.35 152.55h0.9v1.25h-0.9zM584.9 152.55h1.25v1.25h-1.25zM587.8 152.55h1.25v1.25h-1.25zM590.7 152.55h1.25v1.25h-1.25zM593.6 152.55h1.25v1.25h-1.25zM596.5 152.55h1.25v1.25h-1.25zM599.4 152.55h1.25v1.25h-1.25zM602.3 152.55h0.55v1.25h-0.55zM583.45 151.1h1.25v1.25h-1.25zM586.35 151.1h1.25v1.25h-1.25zM589.25 151.1h1.25v1.25h-1.25zM592.15 151.1h1.25v1.25h-1.25zM595.05 151.1h1.25v1.25h-1.25zM597.95 151.1h1.25v1.25h-1.25zM600.85 151.1h1.25v1.25h-1.25zM582.35 149.65h0.9v1.25h-0.9zM584.9 149.65h1.25v1.25h-1.25zM587.8 149.65h1.25v1.25h-1.25zM590.7 149.65h1.25v1.25h-1.25zM593.6 149.65h1.25v1.25h-1.25zM596.5 149.65h1.25v1.25h-1.25zM599.4 149.65h1.25v1.25h-1.25zM602.3 149.65h0.55v1.25h-0.55zM583.45 148.2h1.25v1.25h-1.25zM586.35 148.2h1.25v1.25h-1.25zM589.25 148.2h1.25v1.25h-1.25zM592.15 148.2h1.25v1.25h-1.25zM595.05 148.2h1.25v1.25h-1.25zM597.95 148.2h1.25v1.25h-1.25zM600.85 148.2h1.25v1.25h-1.25zM582.35 146.75h0.9v1.25h-0.9zM584.9 146.75h1.25v1.25h-1.25zM587.8 146.75h1.25v1.25h-1.25zM590.7 146.75h1.25v1.25h-1.25zM593.6 146.75h1.25v1.25h-1.25zM596.5 146.75h1.25v1.25h-1.25zM599.4 146.75h1.25v1.25h-1.25zM602.3 146.75h0.55v1.25h-0.55zM583.45 145.3h1.25v1.25h-1.25zM586.35 145.3h1.25v1.25h-1.25zM589.25 145.3h1.25v1.25h-1.25zM592.15 145.3h1.25v1.25h-1.25zM595.05 145.3h1.25v1.25h-1.25zM597.95 145.3h1.25v1.25h-1.25zM600.85 145.3h1.25v1.25h-1.25zM582.35 143.85h0.9v1.25h-0.9zM584.9 143.85h1.25v1.25h-1.25zM587.8 143.85h1.25v1.25h-1.25zM590.7 143.85h1.25v1.25h-1.25zM593.6 143.85h1.25v1.25h-1.25zM596.5 143.85h1.25v1.25h-1.25zM599.4 143.85h1.25v1.25h-1.25zM602.3 143.85h0.55v1.25h-0.55zM583.45 142.4h1.25v1.25h-1.25zM586.35 142.4h1.25v1.25h-1.25zM589.25 142.4h1.25v1.25h-1.25zM592.15 142.4h1.25v1.25h-1.25zM595.05 142.4h1.25v1.25h-1.25zM597.95 142.4h1.25v1.25h-1.25zM600.85 142.4h1.25v1.25h-1.25zM582.35 140.95h0.9v1.25h-0.9zM584.9 140.95h1.25v1.25h-1.25zM587.8 140.95h1.25v1.25h-1.25zM590.7 140.95h1.25v1.25h-1.25zM593.6 140.95h1.25v1.25h-1.25zM596.5 140.95h1.25v1.25h-1.25zM599.4 140.95h1.25v1.25h-1.25zM602.3 140.95h0.55v1.25h-0.55zM583.45 139.5h1.25v1.25h-1.25zM586.35 139.5h1.25v1.25h-1.25zM589.25 139.5h1.25v1.25h-1.25zM592.15 139.5h1.25v1.25h-1.25zM595.05 139.5h1.25v1.25h-1.25zM597.95 139.5h1.25v1.25h-1.25zM600.85 139.5h1.25v1.25h-1.25zM582.35 138.25h0.9v1.05h-0.9zM584.9 138.25h1.25v1.05h-1.25zM587.8 138.25h1.25v1.05h-1.25zM590.7 138.25h1.25v1.05h-1.25zM593.6 138.25h1.25v1.05h-1.25zM596.5 138.25h1.25v1.05h-1.25zM599.4 138.25h1.25v1.05h-1.25zM602.3 138.25h0.55v1.05h-0.55z" fill="#fff"/>
<rect x="581.9" y="137.8" width="21.4" height="62.5" fill="none" stroke="#000" stroke-width="0.9"/>
<line x1="592.6" y1="200.3" x2="592.6" y2="202.5" stroke="#000" stroke-width="0.7"/>
<text x="593.8" y="207.9" font-size="6.4" font-weight="bold" text-anchor="end" fill="#111" transform="rotate(-45 593.8 207.9)">Sevoflurane</text>
<line x1="623.5" y1="129.6" x2="623.5" y2="135.7" stroke="#000" stroke-width="1.2"/>
<line x1="618.5" y1="129.6" x2="628.5" y2="129.6" stroke="#000" stroke-width="1.2"/>
<rect x="613" y="135.7" width="21" height="64.6" fill="url(#pH)" stroke="#000" stroke-width="0.9"/>
<line x1="623.5" y1="200.3" x2="623.5" y2="202.5" stroke="#000" stroke-width="0.7"/>
<text x="624.7" y="207.9" font-size="6.4" font-weight="bold" text-anchor="end" fill="#111" transform="rotate(-45 624.7 207.9)">Sevo + anti-IL-17A</text>
<line x1="653.5" y1="130.8" x2="653.5" y2="137" stroke="#000" stroke-width="1.2"/>
<line x1="648.5" y1="130.8" x2="658.5" y2="130.8" stroke="#000" stroke-width="1.2"/>
<rect x="643.2" y="137" width="21.4" height="63.3" fill="url(#pV)" stroke="#000" stroke-width="0.9"/>
<line x1="653.9" y1="200.3" x2="653.9" y2="202.5" stroke="#000" stroke-width="0.7"/>
<text x="655.1" y="207.9" font-size="6.4" font-weight="bold" text-anchor="end" fill="#111" transform="rotate(-45 655.1 207.9)">Sevo + NC</text>
<line x1="545.5" y1="118.3" x2="545.5" y2="201" stroke="#222" stroke-width="1.0"/>
<line x1="545" y1="200.5" x2="670" y2="200.5" stroke="#111" stroke-width="1.0"/>
<line x1="543.1" y1="118.3" x2="545.5" y2="118.3" stroke="#222" stroke-width="0.8"/>
<text x="542.8" y="120.53" font-size="6.2" font-weight="bold" text-anchor="end" fill="#000">50</text>
<line x1="543.1" y1="134.7" x2="545.5" y2="134.7" stroke="#222" stroke-width="0.8"/>
<text x="542.8" y="136.93" font-size="6.2" font-weight="bold" text-anchor="end" fill="#000">40</text>
<line x1="543.1" y1="151.1" x2="545.5" y2="151.1" stroke="#222" stroke-width="0.8"/>
<text x="542.8" y="153.33" font-size="6.2" font-weight="bold" text-anchor="end" fill="#000">30</text>
<line x1="543.1" y1="167.5" x2="545.5" y2="167.5" stroke="#222" stroke-width="0.8"/>
<text x="542.8" y="169.73" font-size="6.2" font-weight="bold" text-anchor="end" fill="#000">20</text>
<line x1="543.1" y1="183.9" x2="545.5" y2="183.9" stroke="#222" stroke-width="0.8"/>
<text x="542.8" y="186.13" font-size="6.2" font-weight="bold" text-anchor="end" fill="#000">10</text>
<line x1="543.1" y1="200.3" x2="545.5" y2="200.3" stroke="#222" stroke-width="0.8"/>
<text x="542.8" y="202.53" font-size="6.2" font-weight="bold" text-anchor="end" fill="#000">0</text>
<text x="524.4" y="159.3" font-size="6.55" font-weight="bold" text-anchor="middle" fill="#111" transform="rotate(-90 524.4 159.3)">Time of staying in</text>
<text x="531.8" y="159.3" font-size="6.75" font-weight="bold" text-anchor="middle" fill="#111" transform="rotate(-90 531.8 159.3)">platform quadrant(s)</text>
</g>
</svg>
</body></html>
